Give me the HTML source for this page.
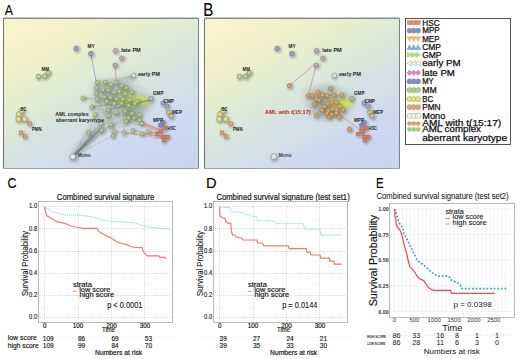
<!DOCTYPE html>
<html><head><meta charset="utf-8"><style>
html,body{margin:0;padding:0;background:#fff;width:520px;height:359px;overflow:hidden;}
svg{display:block;font-family:"Liberation Sans",sans-serif;}
</style></head><body>
<svg width="520" height="359" viewBox="0 0 520 359" font-family="Liberation Sans, sans-serif">
<rect width="520" height="359" fill="#fff"/>
<text transform="translate(4.7,15) scale(0.85,1)" font-size="14.5" fill="#000" stroke="#000" stroke-width="0.1">A</text>
<text transform="translate(203.2,15.5) scale(0.84,1)" font-size="18" fill="#000" stroke="#000" stroke-width="0.1">B</text>
<defs><linearGradient id="gA" gradientUnits="userSpaceOnUse" x1="3" y1="17" x2="108" y2="216"><stop offset="0" stop-color="#f8f6cc"/><stop offset="0.23" stop-color="#f0f0c9"/><stop offset="0.3" stop-color="#eaefcc"/><stop offset="0.4" stop-color="#e1ecd3"/><stop offset="0.6" stop-color="#d4e0e2"/><stop offset="0.67" stop-color="#d2e0e8"/><stop offset="0.76" stop-color="#cddaf0"/><stop offset="1" stop-color="#c8d5f2"/></linearGradient><filter id="blA" x="-30%" y="-30%" width="160%" height="160%"><feGaussianBlur stdDeviation="3"/></filter><filter id="shA" x="-50%" y="-50%" width="200%" height="200%"><feGaussianBlur stdDeviation="1.1"/></filter></defs>
<rect x="3.5" y="18.5" width="195" height="150" fill="url(#gA)" stroke="none"/>
<line x1="3.0" y1="17.5" x2="199.0" y2="17.5" stroke="#c4ccc4" stroke-width="1"/>
<polygon points="94.0,80.0 128.0,80.0 150.0,96.0 152.0,104.0 142.0,122.0 120.0,128.0 100.0,126.0 92.0,110.0" fill="#a4b0a4" opacity="0.4" filter="url(#blA)"/>
<polygon points="98.0,82.0 126.0,84.0 140.0,98.0 132.0,106.0 108.0,104.0 98.0,96.0" fill="#909c94" opacity="0.35" filter="url(#blA)"/>
<line x1="97.3" y1="99.0" x2="114.0" y2="92.3" stroke="#8f9890" stroke-width="0.4" opacity="0.4"/>
<line x1="135.1" y1="103.4" x2="141.8" y2="123.5" stroke="#8f9890" stroke-width="0.4" opacity="0.4"/>
<line x1="116.2" y1="82.2" x2="121.8" y2="85.6" stroke="#8f9890" stroke-width="0.4" opacity="0.4"/>
<line x1="108.4" y1="115.7" x2="96.2" y2="87.8" stroke="#8f9890" stroke-width="0.4" opacity="0.4"/>
<line x1="121.8" y1="103.4" x2="139.6" y2="120.1" stroke="#8f9890" stroke-width="0.4" opacity="0.4"/>
<line x1="116.2" y1="82.2" x2="139.6" y2="114.5" stroke="#8f9890" stroke-width="0.4" opacity="0.4"/>
<line x1="96.2" y1="93.4" x2="110.6" y2="84.5" stroke="#8f9890" stroke-width="0.4" opacity="0.4"/>
<line x1="126.2" y1="87.8" x2="91.7" y2="106.7" stroke="#8f9890" stroke-width="0.4" opacity="0.4"/>
<line x1="82.8" y1="97.8" x2="121.8" y2="85.6" stroke="#8f9890" stroke-width="0.4" opacity="0.4"/>
<line x1="110.6" y1="97.8" x2="126.2" y2="87.8" stroke="#8f9890" stroke-width="0.4" opacity="0.4"/>
<line x1="128.5" y1="117.9" x2="91.7" y2="106.7" stroke="#8f9890" stroke-width="0.4" opacity="0.4"/>
<line x1="116.2" y1="82.2" x2="134.0" y2="117.9" stroke="#8f9890" stroke-width="0.4" opacity="0.4"/>
<line x1="102.8" y1="90.0" x2="104.0" y2="96.7" stroke="#8f9890" stroke-width="0.4" opacity="0.4"/>
<line x1="126.2" y1="121.2" x2="126.2" y2="121.2" stroke="#8f9890" stroke-width="0.4" opacity="0.4"/>
<line x1="139.6" y1="120.1" x2="116.2" y2="82.2" stroke="#8f9890" stroke-width="0.4" opacity="0.4"/>
<line x1="134.0" y1="117.9" x2="139.6" y2="120.1" stroke="#8f9890" stroke-width="0.4" opacity="0.4"/>
<line x1="135.1" y1="103.4" x2="116.2" y2="82.2" stroke="#8f9890" stroke-width="0.4" opacity="0.4"/>
<line x1="104.0" y1="96.7" x2="110.6" y2="84.5" stroke="#8f9890" stroke-width="0.4" opacity="0.4"/>
<line x1="128.5" y1="117.9" x2="108.4" y2="90.0" stroke="#8f9890" stroke-width="0.4" opacity="0.4"/>
<line x1="129.6" y1="100.0" x2="82.8" y2="97.8" stroke="#8f9890" stroke-width="0.4" opacity="0.4"/>
<line x1="114.0" y1="92.3" x2="108.4" y2="115.7" stroke="#8f9890" stroke-width="0.4" opacity="0.4"/>
<line x1="102.8" y1="90.0" x2="134.0" y2="117.9" stroke="#8f9890" stroke-width="0.4" opacity="0.4"/>
<line x1="137.4" y1="101.2" x2="128.5" y2="117.9" stroke="#8f9890" stroke-width="0.4" opacity="0.4"/>
<line x1="101.7" y1="130.1" x2="125.1" y2="93.4" stroke="#8f9890" stroke-width="0.4" opacity="0.4"/>
<line x1="96.2" y1="87.8" x2="139.6" y2="120.1" stroke="#8f9890" stroke-width="0.4" opacity="0.4"/>
<line x1="134.0" y1="117.9" x2="126.2" y2="121.2" stroke="#8f9890" stroke-width="0.4" opacity="0.4"/>
<line x1="131.8" y1="92.3" x2="121.8" y2="103.4" stroke="#8f9890" stroke-width="0.4" opacity="0.4"/>
<line x1="96.2" y1="87.8" x2="128.5" y2="117.9" stroke="#8f9890" stroke-width="0.4" opacity="0.4"/>
<line x1="124.0" y1="132.4" x2="121.8" y2="85.6" stroke="#8f9890" stroke-width="0.4" opacity="0.4"/>
<line x1="134.0" y1="117.9" x2="116.2" y2="82.2" stroke="#8f9890" stroke-width="0.4" opacity="0.4"/>
<line x1="110.6" y1="124.6" x2="96.2" y2="93.4" stroke="#8f9890" stroke-width="0.4" opacity="0.4"/>
<line x1="131.8" y1="113.4" x2="101.7" y2="130.1" stroke="#8f9890" stroke-width="0.4" opacity="0.4"/>
<line x1="108.4" y1="115.7" x2="91.7" y2="106.7" stroke="#8f9890" stroke-width="0.4" opacity="0.4"/>
<line x1="112.9" y1="135.7" x2="97.3" y2="99.0" stroke="#8f9890" stroke-width="0.4" opacity="0.4"/>
<line x1="116.2" y1="112.3" x2="139.6" y2="120.1" stroke="#8f9890" stroke-width="0.4" opacity="0.4"/>
<line x1="116.2" y1="112.3" x2="121.8" y2="103.4" stroke="#8f9890" stroke-width="0.4" opacity="0.4"/>
<line x1="137.4" y1="101.2" x2="110.6" y2="97.8" stroke="#8f9890" stroke-width="0.4" opacity="0.4"/>
<line x1="125.1" y1="93.4" x2="114.0" y2="131.2" stroke="#8f9890" stroke-width="0.4" opacity="0.4"/>
<line x1="112.9" y1="135.7" x2="110.6" y2="97.8" stroke="#8f9890" stroke-width="0.4" opacity="0.4"/>
<line x1="126.2" y1="87.8" x2="134.0" y2="117.9" stroke="#8f9890" stroke-width="0.4" opacity="0.4"/>
<line x1="137.4" y1="101.2" x2="95.0" y2="114.5" stroke="#8f9890" stroke-width="0.4" opacity="0.4"/>
<line x1="131.8" y1="113.4" x2="106.2" y2="101.2" stroke="#8f9890" stroke-width="0.4" opacity="0.4"/>
<line x1="132.9" y1="130.1" x2="108.4" y2="110.0" stroke="#8f9890" stroke-width="0.4" opacity="0.4"/>
<line x1="129.6" y1="100.0" x2="100.6" y2="123.5" stroke="#8f9890" stroke-width="0.4" opacity="0.4"/>
<line x1="121.8" y1="85.6" x2="102.8" y2="90.0" stroke="#8f9890" stroke-width="0.4" opacity="0.4"/>
<line x1="139.6" y1="114.5" x2="82.8" y2="97.8" stroke="#8f9890" stroke-width="0.4" opacity="0.4"/>
<line x1="119.5" y1="91.2" x2="148.5" y2="131.2" stroke="#8f9890" stroke-width="0.4" opacity="0.4"/>
<line x1="106.2" y1="101.2" x2="114.0" y2="92.3" stroke="#8f9890" stroke-width="0.4" opacity="0.4"/>
<line x1="131.8" y1="113.4" x2="82.8" y2="97.8" stroke="#8f9890" stroke-width="0.4" opacity="0.4"/>
<line x1="110.6" y1="84.5" x2="88.4" y2="132.4" stroke="#8f9890" stroke-width="0.4" opacity="0.4"/>
<line x1="121.8" y1="85.6" x2="148.5" y2="131.2" stroke="#8f9890" stroke-width="0.4" opacity="0.4"/>
<line x1="128.5" y1="117.9" x2="134.0" y2="117.9" stroke="#8f9890" stroke-width="0.4" opacity="0.4"/>
<line x1="97.3" y1="99.0" x2="106.2" y2="101.2" stroke="#8f9890" stroke-width="0.4" opacity="0.4"/>
<line x1="114.0" y1="131.2" x2="114.0" y2="103.4" stroke="#8f9890" stroke-width="0.4" opacity="0.4"/>
<line x1="100.6" y1="123.5" x2="131.8" y2="113.4" stroke="#8f9890" stroke-width="0.4" opacity="0.4"/>
<line x1="139.6" y1="120.1" x2="116.2" y2="112.3" stroke="#8f9890" stroke-width="0.4" opacity="0.4"/>
<line x1="121.8" y1="85.6" x2="126.2" y2="87.8" stroke="#8f9890" stroke-width="0.4" opacity="0.4"/>
<line x1="122.9" y1="99.0" x2="125.1" y2="111.2" stroke="#8f9890" stroke-width="0.4" opacity="0.4"/>
<line x1="114.0" y1="131.2" x2="88.4" y2="132.4" stroke="#8f9890" stroke-width="0.4" opacity="0.4"/>
<line x1="121.8" y1="85.6" x2="116.2" y2="82.2" stroke="#8f9890" stroke-width="0.4" opacity="0.4"/>
<line x1="132.9" y1="130.1" x2="114.0" y2="131.2" stroke="#8f9890" stroke-width="0.4" opacity="0.4"/>
<line x1="137.4" y1="101.2" x2="141.8" y2="123.5" stroke="#8f9890" stroke-width="0.4" opacity="0.4"/>
<line x1="134.0" y1="117.9" x2="101.7" y2="130.1" stroke="#8f9890" stroke-width="0.4" opacity="0.4"/>
<line x1="108.4" y1="110.0" x2="129.6" y2="100.0" stroke="#8f9890" stroke-width="0.4" opacity="0.4"/>
<line x1="124.0" y1="132.4" x2="128.5" y2="105.6" stroke="#8f9890" stroke-width="0.4" opacity="0.4"/>
<line x1="88.4" y1="132.4" x2="114.0" y2="103.4" stroke="#8f9890" stroke-width="0.4" opacity="0.4"/>
<line x1="105.0" y1="82.2" x2="116.2" y2="112.3" stroke="#8f9890" stroke-width="0.4" opacity="0.4"/>
<line x1="114.0" y1="103.4" x2="119.5" y2="91.2" stroke="#8f9890" stroke-width="0.4" opacity="0.4"/>
<line x1="110.6" y1="124.6" x2="102.8" y2="90.0" stroke="#8f9890" stroke-width="0.4" opacity="0.4"/>
<line x1="131.8" y1="113.4" x2="116.2" y2="82.2" stroke="#8f9890" stroke-width="0.4" opacity="0.4"/>
<line x1="96.2" y1="93.4" x2="112.9" y2="135.7" stroke="#8f9890" stroke-width="0.4" opacity="0.4"/>
<line x1="129.6" y1="100.0" x2="108.4" y2="90.0" stroke="#8f9890" stroke-width="0.4" opacity="0.4"/>
<line x1="141.8" y1="133.5" x2="110.6" y2="97.8" stroke="#8f9890" stroke-width="0.4" opacity="0.4"/>
<line x1="135.1" y1="103.4" x2="135.1" y2="103.4" stroke="#8f9890" stroke-width="0.4" opacity="0.4"/>
<line x1="131.8" y1="113.4" x2="126.2" y2="87.8" stroke="#8f9890" stroke-width="0.4" opacity="0.4"/>
<line x1="119.5" y1="91.2" x2="108.4" y2="110.0" stroke="#8f9890" stroke-width="0.4" opacity="0.4"/>
<line x1="135.1" y1="103.4" x2="128.5" y2="117.9" stroke="#8f9890" stroke-width="0.4" opacity="0.4"/>
<line x1="122.9" y1="99.0" x2="108.4" y2="90.0" stroke="#8f9890" stroke-width="0.4" opacity="0.4"/>
<line x1="91.7" y1="106.7" x2="128.5" y2="117.9" stroke="#8f9890" stroke-width="0.4" opacity="0.4"/>
<line x1="122.9" y1="99.0" x2="124.0" y2="132.4" stroke="#8f9890" stroke-width="0.4" opacity="0.4"/>
<line x1="82.8" y1="97.8" x2="114.0" y2="103.4" stroke="#8f9890" stroke-width="0.4" opacity="0.4"/>
<line x1="101.7" y1="130.1" x2="128.5" y2="105.6" stroke="#8f9890" stroke-width="0.4" opacity="0.4"/>
<line x1="104.0" y1="96.7" x2="114.0" y2="92.3" stroke="#8f9890" stroke-width="0.4" opacity="0.4"/>
<line x1="126.2" y1="87.8" x2="125.1" y2="93.4" stroke="#8f9890" stroke-width="0.4" opacity="0.4"/>
<line x1="114.0" y1="92.3" x2="104.0" y2="96.7" stroke="#8f9890" stroke-width="0.4" opacity="0.4"/>
<line x1="88.4" y1="132.4" x2="104.0" y2="96.7" stroke="#8f9890" stroke-width="0.4" opacity="0.4"/>
<line x1="97.3" y1="82.2" x2="131.8" y2="113.4" stroke="#8f9890" stroke-width="0.4" opacity="0.4"/>
<line x1="139.6" y1="120.1" x2="125.1" y2="93.4" stroke="#8f9890" stroke-width="0.4" opacity="0.4"/>
<line x1="116.2" y1="99.0" x2="129.6" y2="100.0" stroke="#8f9890" stroke-width="0.4" opacity="0.4"/>
<line x1="97.3" y1="82.2" x2="114.0" y2="92.3" stroke="#8f9890" stroke-width="0.4" opacity="0.4"/>
<line x1="82.8" y1="97.8" x2="108.4" y2="115.7" stroke="#8f9890" stroke-width="0.4" opacity="0.4"/>
<line x1="121.8" y1="103.4" x2="110.6" y2="124.6" stroke="#8f9890" stroke-width="0.4" opacity="0.4"/>
<line x1="134.0" y1="117.9" x2="97.3" y2="99.0" stroke="#8f9890" stroke-width="0.4" opacity="0.4"/>
<line x1="108.4" y1="90.0" x2="114.0" y2="131.2" stroke="#8f9890" stroke-width="0.4" opacity="0.4"/>
<line x1="139.6" y1="114.5" x2="110.6" y2="124.6" stroke="#8f9890" stroke-width="0.4" opacity="0.4"/>
<line x1="141.8" y1="123.5" x2="101.7" y2="130.1" stroke="#8f9890" stroke-width="0.4" opacity="0.4"/>
<line x1="141.8" y1="133.5" x2="116.2" y2="82.2" stroke="#8f9890" stroke-width="0.4" opacity="0.4"/>
<line x1="116.2" y1="112.3" x2="112.9" y2="135.7" stroke="#8f9890" stroke-width="0.4" opacity="0.4"/>
<line x1="101.7" y1="130.1" x2="128.5" y2="117.9" stroke="#8f9890" stroke-width="0.4" opacity="0.4"/>
<line x1="135.1" y1="103.4" x2="135.1" y2="103.4" stroke="#8f9890" stroke-width="0.4" opacity="0.4"/>
<line x1="135.1" y1="103.4" x2="135.1" y2="103.4" stroke="#8f9890" stroke-width="0.4" opacity="0.4"/>
<line x1="96.2" y1="87.8" x2="125.1" y2="111.2" stroke="#8f9890" stroke-width="0.4" opacity="0.4"/>
<line x1="126.2" y1="121.2" x2="135.1" y2="103.4" stroke="#8f9890" stroke-width="0.4" opacity="0.4"/>
<line x1="116.2" y1="82.2" x2="131.8" y2="92.3" stroke="#8f9890" stroke-width="0.4" opacity="0.4"/>
<line x1="121.8" y1="85.6" x2="96.2" y2="93.4" stroke="#8f9890" stroke-width="0.4" opacity="0.4"/>
<line x1="108.4" y1="110.0" x2="119.5" y2="91.2" stroke="#8f9890" stroke-width="0.4" opacity="0.4"/>
<line x1="102.8" y1="90.0" x2="106.2" y2="101.2" stroke="#8f9890" stroke-width="0.4" opacity="0.4"/>
<line x1="100.6" y1="123.5" x2="116.2" y2="82.2" stroke="#8f9890" stroke-width="0.4" opacity="0.4"/>
<line x1="96.2" y1="87.8" x2="97.3" y2="82.2" stroke="#8f9890" stroke-width="0.4" opacity="0.4"/>
<line x1="134.0" y1="117.9" x2="114.0" y2="92.3" stroke="#8f9890" stroke-width="0.4" opacity="0.4"/>
<polygon points="124.0,96.0 151.0,99.0 148.0,106.0 128.0,122.0 122.0,112.0" fill="#6c7a64" opacity="0.4" filter="url(#blA)"/>
<polygon points="122.0,95.0 150.0,99.0 150.0,102.0 124.0,106.0" fill="#e0f038" opacity="0.6" filter="url(#blA)"/>
<line x1="114.0" y1="103.4" x2="149.2" y2="100.1" stroke="#d4e848" stroke-width="0.5" opacity="0.6"/>
<line x1="114.0" y1="92.3" x2="149.1" y2="99.6" stroke="#d4e848" stroke-width="0.5" opacity="0.6"/>
<line x1="129.6" y1="100.0" x2="149.3" y2="99.8" stroke="#d4e848" stroke-width="0.5" opacity="0.6"/>
<line x1="122.9" y1="99.0" x2="150.2" y2="100.4" stroke="#d4e848" stroke-width="0.5" opacity="0.6"/>
<line x1="119.5" y1="91.2" x2="150.7" y2="102.0" stroke="#d4e848" stroke-width="0.5" opacity="0.6"/>
<line x1="137.4" y1="101.2" x2="150.0" y2="99.9" stroke="#d4e848" stroke-width="0.5" opacity="0.6"/>
<line x1="125.1" y1="93.4" x2="149.2" y2="100.0" stroke="#d4e848" stroke-width="0.5" opacity="0.6"/>
<line x1="116.2" y1="99.0" x2="150.0" y2="101.1" stroke="#d4e848" stroke-width="0.5" opacity="0.6"/>
<line x1="114.0" y1="103.4" x2="149.0" y2="101.9" stroke="#d4e848" stroke-width="0.5" opacity="0.6"/>
<line x1="114.0" y1="103.4" x2="149.7" y2="101.1" stroke="#d4e848" stroke-width="0.5" opacity="0.6"/>
<line x1="131.8" y1="113.4" x2="149.1" y2="100.6" stroke="#d4e848" stroke-width="0.5" opacity="0.6"/>
<line x1="128.5" y1="105.6" x2="150.7" y2="101.1" stroke="#d4e848" stroke-width="0.5" opacity="0.6"/>
<line x1="116.2" y1="99.0" x2="150.0" y2="101.7" stroke="#d4e848" stroke-width="0.5" opacity="0.6"/>
<line x1="122.9" y1="99.0" x2="150.5" y2="100.6" stroke="#d4e848" stroke-width="0.5" opacity="0.6"/>
<line x1="116.2" y1="112.3" x2="150.0" y2="100.9" stroke="#d4e848" stroke-width="0.5" opacity="0.6"/>
<line x1="121.8" y1="103.4" x2="150.6" y2="102.0" stroke="#d4e848" stroke-width="0.5" opacity="0.6"/>
<line x1="125.1" y1="111.2" x2="149.4" y2="99.7" stroke="#d4e848" stroke-width="0.5" opacity="0.6"/>
<line x1="129.6" y1="100.0" x2="150.5" y2="99.7" stroke="#d4e848" stroke-width="0.5" opacity="0.6"/>
<line x1="114.0" y1="103.4" x2="150.0" y2="101.2" stroke="#d4e848" stroke-width="0.5" opacity="0.6"/>
<line x1="114.0" y1="92.3" x2="150.6" y2="100.4" stroke="#d4e848" stroke-width="0.5" opacity="0.6"/>
<line x1="131.8" y1="92.3" x2="150.4" y2="101.9" stroke="#d4e848" stroke-width="0.5" opacity="0.6"/>
<line x1="137.4" y1="101.2" x2="150.6" y2="101.2" stroke="#d4e848" stroke-width="0.5" opacity="0.6"/>
<line x1="122.9" y1="99.0" x2="150.9" y2="100.1" stroke="#d4e848" stroke-width="0.5" opacity="0.6"/>
<line x1="131.8" y1="92.3" x2="149.2" y2="100.4" stroke="#d4e848" stroke-width="0.5" opacity="0.6"/>
<line x1="72.8" y1="156.6" x2="88.4" y2="132.1" stroke="#7c8484" stroke-width="0.45" opacity="0.6"/>
<line x1="72.8" y1="156.6" x2="100.6" y2="129.3" stroke="#7c8484" stroke-width="0.45" opacity="0.6"/>
<line x1="72.8" y1="156.6" x2="112.0" y2="124.6" stroke="#7c8484" stroke-width="0.45" opacity="0.6"/>
<line x1="72.8" y1="156.6" x2="113.9" y2="135.0" stroke="#7c8484" stroke-width="0.45" opacity="0.6"/>
<line x1="72.8" y1="156.6" x2="116.7" y2="124.6" stroke="#7c8484" stroke-width="0.45" opacity="0.6"/>
<line x1="72.8" y1="156.6" x2="101.7" y2="130.1" stroke="#7c8484" stroke-width="0.45" opacity="0.6"/>
<line x1="72.8" y1="156.6" x2="95.0" y2="114.5" stroke="#7c8484" stroke-width="0.45" opacity="0.6"/>
<line x1="72.8" y1="156.6" x2="100.6" y2="123.5" stroke="#7c8484" stroke-width="0.45" opacity="0.6"/>
<line x1="72.8" y1="156.6" x2="110.6" y2="124.6" stroke="#7c8484" stroke-width="0.45" opacity="0.6"/>
<line x1="72.8" y1="156.6" x2="99.4" y2="126.8" stroke="#707878" stroke-width="0.45" opacity="0.55"/>
<line x1="72.8" y1="156.6" x2="107.8" y2="128.3" stroke="#707878" stroke-width="0.45" opacity="0.55"/>
<line x1="72.8" y1="156.6" x2="95.0" y2="131.9" stroke="#707878" stroke-width="0.45" opacity="0.55"/>
<line x1="72.8" y1="156.6" x2="99.5" y2="128.7" stroke="#707878" stroke-width="0.45" opacity="0.55"/>
<line x1="72.8" y1="156.6" x2="105.9" y2="122.4" stroke="#707878" stroke-width="0.45" opacity="0.55"/>
<line x1="72.8" y1="156.6" x2="100.1" y2="129.5" stroke="#707878" stroke-width="0.45" opacity="0.55"/>
<line x1="72.8" y1="156.6" x2="97.6" y2="131.7" stroke="#707878" stroke-width="0.45" opacity="0.55"/>
<line x1="72.8" y1="156.6" x2="100.6" y2="128.6" stroke="#707878" stroke-width="0.45" opacity="0.55"/>
<line x1="72.8" y1="156.6" x2="96.1" y2="132.4" stroke="#707878" stroke-width="0.45" opacity="0.55"/>
<line x1="72.8" y1="156.6" x2="104.4" y2="126.6" stroke="#707878" stroke-width="0.45" opacity="0.55"/>
<line x1="72.8" y1="156.6" x2="104.7" y2="122.0" stroke="#707878" stroke-width="0.45" opacity="0.55"/>
<line x1="72.8" y1="156.6" x2="97.1" y2="132.9" stroke="#707878" stroke-width="0.45" opacity="0.55"/>
<line x1="72.8" y1="156.6" x2="95.4" y2="128.1" stroke="#707878" stroke-width="0.45" opacity="0.55"/>
<line x1="72.8" y1="156.6" x2="101.0" y2="128.9" stroke="#707878" stroke-width="0.45" opacity="0.55"/>
<line x1="72.8" y1="156.6" x2="103.0" y2="128.2" stroke="#707878" stroke-width="0.45" opacity="0.55"/>
<line x1="72.8" y1="156.6" x2="101.2" y2="132.2" stroke="#707878" stroke-width="0.45" opacity="0.55"/>
<polygon points="72.0,154.0 84.0,140.0 96.0,126.0 104.0,126.0 92.0,140.0 80.0,154.0 75.0,161.0" fill="#606868" opacity="0.4" filter="url(#blA)"/>
<line x1="90.8" y1="53.6" x2="97.3" y2="88.0" stroke="#7b86c8" stroke-width="0.7" opacity="0.9"/>
<line x1="115.1" y1="65.1" x2="116.2" y2="82.2" stroke="#d070a0" stroke-width="0.6" opacity="1"/>
<polygon points="134.0,74.0 104.0,82.0 112.0,88.0 128.0,86.0" fill="#b8bcb8" opacity="0.5" filter="url(#blA)"/>
<line x1="133.0" y1="75.4" x2="97.3" y2="82.2" stroke="#a0a4a0" stroke-width="0.4" opacity="0.55"/>
<line x1="133.0" y1="75.4" x2="105.0" y2="82.2" stroke="#a0a4a0" stroke-width="0.4" opacity="0.55"/>
<line x1="133.0" y1="75.4" x2="110.6" y2="84.5" stroke="#a0a4a0" stroke-width="0.4" opacity="0.55"/>
<line x1="133.0" y1="75.4" x2="116.2" y2="82.2" stroke="#a0a4a0" stroke-width="0.4" opacity="0.55"/>
<line x1="133.0" y1="75.4" x2="121.8" y2="85.6" stroke="#a0a4a0" stroke-width="0.4" opacity="0.55"/>
<line x1="133.0" y1="75.4" x2="126.2" y2="87.8" stroke="#a0a4a0" stroke-width="0.4" opacity="0.55"/>
<line x1="133.0" y1="75.4" x2="96.2" y2="87.8" stroke="#a0a4a0" stroke-width="0.4" opacity="0.55"/>
<line x1="133.0" y1="75.4" x2="102.8" y2="90.0" stroke="#a0a4a0" stroke-width="0.4" opacity="0.55"/>
<line x1="133.0" y1="75.4" x2="108.4" y2="90.0" stroke="#a0a4a0" stroke-width="0.4" opacity="0.55"/>
<line x1="133.0" y1="75.4" x2="114.0" y2="92.3" stroke="#a0a4a0" stroke-width="0.4" opacity="0.55"/>
<line x1="133.0" y1="75.4" x2="119.5" y2="91.2" stroke="#a0a4a0" stroke-width="0.4" opacity="0.55"/>
<line x1="133.0" y1="75.4" x2="125.1" y2="93.4" stroke="#a0a4a0" stroke-width="0.4" opacity="0.55"/>
<line x1="133.0" y1="75.4" x2="131.8" y2="92.3" stroke="#a0a4a0" stroke-width="0.4" opacity="0.55"/>
<line x1="163.0" y1="131.4" x2="139.6" y2="120.1" stroke="#e46848" stroke-width="0.55" opacity="0.75"/>
<line x1="163.0" y1="134.9" x2="134.0" y2="117.9" stroke="#e46848" stroke-width="0.55" opacity="0.75"/>
<line x1="163.0" y1="130.2" x2="141.8" y2="123.5" stroke="#e46848" stroke-width="0.55" opacity="0.75"/>
<line x1="163.0" y1="137.2" x2="132.9" y2="130.1" stroke="#e46848" stroke-width="0.55" opacity="0.75"/>
<line x1="163.0" y1="136.5" x2="124.0" y2="132.4" stroke="#e46848" stroke-width="0.55" opacity="0.75"/>
<line x1="163.0" y1="130.9" x2="141.8" y2="133.5" stroke="#e46848" stroke-width="0.55" opacity="0.75"/>
<line x1="163.0" y1="136.7" x2="148.5" y2="131.2" stroke="#e46848" stroke-width="0.55" opacity="0.75"/>
<line x1="163.0" y1="131.3" x2="128.5" y2="117.9" stroke="#e46848" stroke-width="0.55" opacity="0.75"/>
<line x1="163.0" y1="138.9" x2="114.0" y2="131.2" stroke="#e46848" stroke-width="0.55" opacity="0.75"/>
<line x1="163.0" y1="131.8" x2="126.2" y2="121.2" stroke="#e46848" stroke-width="0.55" opacity="0.75"/>
<line x1="91.7" y1="106.7" x2="150.0" y2="100.5" stroke="#6a7a60" stroke-width="0.5" opacity="0.6"/>
<line x1="82.8" y1="97.8" x2="150.0" y2="100.5" stroke="#6a7a60" stroke-width="0.5" opacity="0.6"/>
<line x1="108.4" y1="110.0" x2="150.0" y2="100.5" stroke="#6a7a60" stroke-width="0.5" opacity="0.6"/>
<line x1="91.7" y1="106.7" x2="150.0" y2="100.5" stroke="#6a7a60" stroke-width="0.5" opacity="0.6"/>
<line x1="108.4" y1="110.0" x2="150.0" y2="100.5" stroke="#6a7a60" stroke-width="0.5" opacity="0.6"/>
<circle cx="134.1" cy="76.8" r="3.2" fill="#6a7478" opacity="0.45" filter="url(#shA)"/>
<path d="M130.4 75.4L135.0 72.9L135.0 77.9Z" fill="#eceee8" stroke="#8a8a8a" stroke-width="0.5"/>
<circle cx="98.4" cy="83.6" r="3.0" fill="#6a7478" opacity="0.45" filter="url(#shA)"/>
<circle cx="106.1" cy="83.6" r="3.0" fill="#6a7478" opacity="0.45" filter="url(#shA)"/>
<circle cx="111.7" cy="85.9" r="3.0" fill="#6a7478" opacity="0.45" filter="url(#shA)"/>
<circle cx="117.3" cy="83.6" r="3.0" fill="#6a7478" opacity="0.45" filter="url(#shA)"/>
<circle cx="122.9" cy="87.0" r="3.0" fill="#6a7478" opacity="0.45" filter="url(#shA)"/>
<circle cx="127.3" cy="89.2" r="3.0" fill="#6a7478" opacity="0.45" filter="url(#shA)"/>
<circle cx="97.3" cy="89.2" r="3.0" fill="#6a7478" opacity="0.45" filter="url(#shA)"/>
<circle cx="103.9" cy="91.4" r="3.0" fill="#6a7478" opacity="0.45" filter="url(#shA)"/>
<circle cx="109.5" cy="91.4" r="3.0" fill="#6a7478" opacity="0.45" filter="url(#shA)"/>
<circle cx="115.1" cy="93.7" r="3.0" fill="#6a7478" opacity="0.45" filter="url(#shA)"/>
<circle cx="120.6" cy="92.6" r="3.0" fill="#6a7478" opacity="0.45" filter="url(#shA)"/>
<circle cx="126.2" cy="94.8" r="3.0" fill="#6a7478" opacity="0.45" filter="url(#shA)"/>
<circle cx="132.9" cy="93.7" r="3.0" fill="#6a7478" opacity="0.45" filter="url(#shA)"/>
<circle cx="97.3" cy="94.8" r="3.0" fill="#6a7478" opacity="0.45" filter="url(#shA)"/>
<circle cx="105.1" cy="98.1" r="3.0" fill="#6a7478" opacity="0.45" filter="url(#shA)"/>
<circle cx="111.7" cy="99.2" r="3.0" fill="#6a7478" opacity="0.45" filter="url(#shA)"/>
<circle cx="117.3" cy="100.4" r="3.0" fill="#6a7478" opacity="0.45" filter="url(#shA)"/>
<circle cx="124.0" cy="100.4" r="3.0" fill="#6a7478" opacity="0.45" filter="url(#shA)"/>
<circle cx="130.7" cy="101.4" r="3.0" fill="#6a7478" opacity="0.45" filter="url(#shA)"/>
<circle cx="138.5" cy="102.6" r="3.0" fill="#6a7478" opacity="0.45" filter="url(#shA)"/>
<circle cx="98.4" cy="100.4" r="3.0" fill="#6a7478" opacity="0.45" filter="url(#shA)"/>
<circle cx="107.3" cy="102.6" r="3.0" fill="#6a7478" opacity="0.45" filter="url(#shA)"/>
<circle cx="115.1" cy="104.8" r="3.0" fill="#6a7478" opacity="0.45" filter="url(#shA)"/>
<circle cx="122.9" cy="104.8" r="3.0" fill="#6a7478" opacity="0.45" filter="url(#shA)"/>
<circle cx="129.6" cy="107.0" r="3.0" fill="#6a7478" opacity="0.45" filter="url(#shA)"/>
<circle cx="136.2" cy="104.8" r="3.0" fill="#6a7478" opacity="0.45" filter="url(#shA)"/>
<circle cx="83.9" cy="99.2" r="3.0" fill="#6a7478" opacity="0.45" filter="url(#shA)"/>
<circle cx="92.8" cy="108.1" r="3.0" fill="#6a7478" opacity="0.45" filter="url(#shA)"/>
<circle cx="109.5" cy="111.4" r="3.0" fill="#6a7478" opacity="0.45" filter="url(#shA)"/>
<circle cx="117.3" cy="113.7" r="3.0" fill="#6a7478" opacity="0.45" filter="url(#shA)"/>
<circle cx="126.2" cy="112.6" r="3.0" fill="#6a7478" opacity="0.45" filter="url(#shA)"/>
<circle cx="132.9" cy="114.8" r="3.0" fill="#6a7478" opacity="0.45" filter="url(#shA)"/>
<circle cx="140.7" cy="115.9" r="3.0" fill="#6a7478" opacity="0.45" filter="url(#shA)"/>
<circle cx="96.1" cy="115.9" r="3.0" fill="#6a7478" opacity="0.45" filter="url(#shA)"/>
<circle cx="109.5" cy="117.1" r="3.0" fill="#6a7478" opacity="0.45" filter="url(#shA)"/>
<circle cx="129.6" cy="119.3" r="3.0" fill="#6a7478" opacity="0.45" filter="url(#shA)"/>
<circle cx="135.1" cy="119.3" r="3.0" fill="#6a7478" opacity="0.45" filter="url(#shA)"/>
<circle cx="140.7" cy="121.5" r="3.0" fill="#6a7478" opacity="0.45" filter="url(#shA)"/>
<circle cx="101.7" cy="124.9" r="3.0" fill="#6a7478" opacity="0.45" filter="url(#shA)"/>
<circle cx="111.7" cy="126.0" r="3.0" fill="#6a7478" opacity="0.45" filter="url(#shA)"/>
<circle cx="127.3" cy="122.6" r="3.0" fill="#6a7478" opacity="0.45" filter="url(#shA)"/>
<circle cx="142.9" cy="124.9" r="3.0" fill="#6a7478" opacity="0.45" filter="url(#shA)"/>
<circle cx="89.5" cy="133.8" r="3.0" fill="#6a7478" opacity="0.45" filter="url(#shA)"/>
<circle cx="102.8" cy="131.5" r="3.0" fill="#6a7478" opacity="0.45" filter="url(#shA)"/>
<circle cx="115.1" cy="132.6" r="3.0" fill="#6a7478" opacity="0.45" filter="url(#shA)"/>
<circle cx="125.1" cy="133.8" r="3.0" fill="#6a7478" opacity="0.45" filter="url(#shA)"/>
<circle cx="134.0" cy="131.5" r="3.0" fill="#6a7478" opacity="0.45" filter="url(#shA)"/>
<circle cx="142.9" cy="134.9" r="3.0" fill="#6a7478" opacity="0.45" filter="url(#shA)"/>
<circle cx="149.6" cy="132.6" r="3.0" fill="#6a7478" opacity="0.45" filter="url(#shA)"/>
<circle cx="114.0" cy="137.1" r="3.0" fill="#6a7478" opacity="0.45" filter="url(#shA)"/>
<circle cx="77.2" cy="49.8" r="3.5" fill="#6a7478" opacity="0.45" filter="url(#shA)"/>
<circle cx="91.9" cy="55.0" r="3.5" fill="#6a7478" opacity="0.45" filter="url(#shA)"/>
<circle cx="116.5" cy="51.9" r="3.3" fill="#6a7478" opacity="0.45" filter="url(#shA)"/>
<circle cx="122.7" cy="59.4" r="3.3" fill="#6a7478" opacity="0.45" filter="url(#shA)"/>
<circle cx="116.2" cy="66.5" r="3.3" fill="#6a7478" opacity="0.45" filter="url(#shA)"/>
<circle cx="39.5" cy="77.8" r="3.4" fill="#6a7478" opacity="0.45" filter="url(#shA)"/>
<circle cx="45.8" cy="77.5" r="3.4" fill="#6a7478" opacity="0.45" filter="url(#shA)"/>
<circle cx="49.3" cy="74.1" r="3.4" fill="#6a7478" opacity="0.45" filter="url(#shA)"/>
<circle cx="19.9" cy="115.6" r="3.7" fill="#6a7478" opacity="0.45" filter="url(#shA)"/>
<circle cx="23.0" cy="112.1" r="3.7" fill="#6a7478" opacity="0.45" filter="url(#shA)"/>
<circle cx="19.5" cy="120.4" r="3.7" fill="#6a7478" opacity="0.45" filter="url(#shA)"/>
<circle cx="25.7" cy="120.4" r="3.7" fill="#6a7478" opacity="0.45" filter="url(#shA)"/>
<circle cx="30.7" cy="125.0" r="2.9" fill="#6a7478" opacity="0.45" filter="url(#shA)"/>
<circle cx="22.0" cy="134.0" r="2.9" fill="#6a7478" opacity="0.45" filter="url(#shA)"/>
<circle cx="26.1" cy="137.7" r="2.9" fill="#6a7478" opacity="0.45" filter="url(#shA)"/>
<circle cx="73.9" cy="158.0" r="4.0" fill="#6a7478" opacity="0.45" filter="url(#shA)"/>
<circle cx="151.8" cy="99.9" r="3.3" fill="#6a7478" opacity="0.45" filter="url(#shA)"/>
<circle cx="164.1" cy="104.4" r="3.3" fill="#6a7478" opacity="0.45" filter="url(#shA)"/>
<circle cx="168.1" cy="107.4" r="3.3" fill="#6a7478" opacity="0.45" filter="url(#shA)"/>
<circle cx="169.6" cy="113.7" r="3.3" fill="#6a7478" opacity="0.45" filter="url(#shA)"/>
<circle cx="172.1" cy="117.4" r="3.3" fill="#6a7478" opacity="0.45" filter="url(#shA)"/>
<circle cx="164.1" cy="123.7" r="3.3" fill="#6a7478" opacity="0.45" filter="url(#shA)"/>
<circle cx="161.6" cy="126.4" r="3.3" fill="#6a7478" opacity="0.45" filter="url(#shA)"/>
<circle cx="166.3" cy="129.4" r="2.9" fill="#6a7478" opacity="0.45" filter="url(#shA)"/>
<circle cx="161.8" cy="132.6" r="2.9" fill="#6a7478" opacity="0.45" filter="url(#shA)"/>
<circle cx="164.1" cy="138.2" r="2.9" fill="#6a7478" opacity="0.45" filter="url(#shA)"/>
<circle cx="168.5" cy="138.2" r="2.9" fill="#6a7478" opacity="0.45" filter="url(#shA)"/>
<circle cx="165.1" cy="141.6" r="2.9" fill="#6a7478" opacity="0.45" filter="url(#shA)"/>
<circle cx="158.1" cy="135.4" r="2.9" fill="#6a7478" opacity="0.45" filter="url(#shA)"/>
<circle cx="97.3" cy="82.2" r="1.8" fill="#b8d47a" stroke="#7a8a60" stroke-width="0.45"/>
<circle cx="105.0" cy="82.2" r="1.8" fill="#b8d47a" stroke="#7a8a60" stroke-width="0.45"/>
<circle cx="110.6" cy="84.5" r="1.8" fill="#b8d47a" stroke="#7a8a60" stroke-width="0.45"/>
<circle cx="116.2" cy="82.2" r="1.8" fill="#b8d47a" stroke="#7a8a60" stroke-width="0.45"/>
<circle cx="121.8" cy="85.6" r="1.8" fill="#b8d47a" stroke="#7a8a60" stroke-width="0.45"/>
<circle cx="126.2" cy="87.8" r="1.8" fill="#b8d47a" stroke="#7a8a60" stroke-width="0.45"/>
<circle cx="96.2" cy="87.8" r="1.8" fill="#b8d47a" stroke="#7a8a60" stroke-width="0.45"/>
<circle cx="102.8" cy="90.0" r="1.8" fill="#b8d47a" stroke="#7a8a60" stroke-width="0.45"/>
<circle cx="108.4" cy="90.0" r="1.8" fill="#b8d47a" stroke="#7a8a60" stroke-width="0.45"/>
<circle cx="114.0" cy="92.3" r="1.8" fill="#b8d47a" stroke="#7a8a60" stroke-width="0.45"/>
<circle cx="119.5" cy="91.2" r="1.8" fill="#b8d47a" stroke="#7a8a60" stroke-width="0.45"/>
<circle cx="125.1" cy="93.4" r="1.8" fill="#b8d47a" stroke="#7a8a60" stroke-width="0.45"/>
<circle cx="131.8" cy="92.3" r="1.8" fill="#b8d47a" stroke="#7a8a60" stroke-width="0.45"/>
<circle cx="96.2" cy="93.4" r="1.8" fill="#b8d47a" stroke="#7a8a60" stroke-width="0.45"/>
<circle cx="104.0" cy="96.7" r="1.8" fill="#b8d47a" stroke="#7a8a60" stroke-width="0.45"/>
<circle cx="110.6" cy="97.8" r="1.8" fill="#b8d47a" stroke="#7a8a60" stroke-width="0.45"/>
<circle cx="116.2" cy="99.0" r="1.8" fill="#b8d47a" stroke="#7a8a60" stroke-width="0.45"/>
<circle cx="122.9" cy="99.0" r="1.8" fill="#b8d47a" stroke="#7a8a60" stroke-width="0.45"/>
<circle cx="129.6" cy="100.0" r="1.8" fill="#b8d47a" stroke="#7a8a60" stroke-width="0.45"/>
<circle cx="137.4" cy="101.2" r="1.8" fill="#b8d47a" stroke="#7a8a60" stroke-width="0.45"/>
<circle cx="97.3" cy="99.0" r="1.8" fill="#b8d47a" stroke="#7a8a60" stroke-width="0.45"/>
<circle cx="106.2" cy="101.2" r="1.8" fill="#b8d47a" stroke="#7a8a60" stroke-width="0.45"/>
<circle cx="114.0" cy="103.4" r="1.8" fill="#b8d47a" stroke="#7a8a60" stroke-width="0.45"/>
<circle cx="121.8" cy="103.4" r="1.8" fill="#b8d47a" stroke="#7a8a60" stroke-width="0.45"/>
<circle cx="128.5" cy="105.6" r="1.8" fill="#b8d47a" stroke="#7a8a60" stroke-width="0.45"/>
<circle cx="135.1" cy="103.4" r="1.8" fill="#b8d47a" stroke="#7a8a60" stroke-width="0.45"/>
<circle cx="82.8" cy="97.8" r="1.8" fill="#b8d47a" stroke="#7a8a60" stroke-width="0.45"/>
<circle cx="91.7" cy="106.7" r="1.8" fill="#b8d47a" stroke="#7a8a60" stroke-width="0.45"/>
<circle cx="108.4" cy="110.0" r="1.8" fill="#b8d47a" stroke="#7a8a60" stroke-width="0.45"/>
<circle cx="116.2" cy="112.3" r="1.8" fill="#b8d47a" stroke="#7a8a60" stroke-width="0.45"/>
<circle cx="125.1" cy="111.2" r="1.8" fill="#b8d47a" stroke="#7a8a60" stroke-width="0.45"/>
<circle cx="131.8" cy="113.4" r="1.8" fill="#b8d47a" stroke="#7a8a60" stroke-width="0.45"/>
<circle cx="139.6" cy="114.5" r="1.8" fill="#b8d47a" stroke="#7a8a60" stroke-width="0.45"/>
<circle cx="95.0" cy="114.5" r="1.8" fill="#b8d47a" stroke="#7a8a60" stroke-width="0.45"/>
<circle cx="108.4" cy="115.7" r="1.8" fill="#b8d47a" stroke="#7a8a60" stroke-width="0.45"/>
<circle cx="128.5" cy="117.9" r="1.8" fill="#b8d47a" stroke="#7a8a60" stroke-width="0.45"/>
<circle cx="134.0" cy="117.9" r="1.8" fill="#b8d47a" stroke="#7a8a60" stroke-width="0.45"/>
<circle cx="139.6" cy="120.1" r="1.8" fill="#b8d47a" stroke="#7a8a60" stroke-width="0.45"/>
<circle cx="100.6" cy="123.5" r="1.8" fill="#b8d47a" stroke="#7a8a60" stroke-width="0.45"/>
<circle cx="110.6" cy="124.6" r="1.8" fill="#b8d47a" stroke="#7a8a60" stroke-width="0.45"/>
<circle cx="126.2" cy="121.2" r="1.8" fill="#b8d47a" stroke="#7a8a60" stroke-width="0.45"/>
<circle cx="141.8" cy="123.5" r="1.8" fill="#b8d47a" stroke="#7a8a60" stroke-width="0.45"/>
<circle cx="88.4" cy="132.4" r="1.8" fill="#b8d47a" stroke="#7a8a60" stroke-width="0.45"/>
<circle cx="101.7" cy="130.1" r="1.8" fill="#b8d47a" stroke="#7a8a60" stroke-width="0.45"/>
<circle cx="114.0" cy="131.2" r="1.8" fill="#b8d47a" stroke="#7a8a60" stroke-width="0.45"/>
<circle cx="124.0" cy="132.4" r="1.8" fill="#b8d47a" stroke="#7a8a60" stroke-width="0.45"/>
<circle cx="132.9" cy="130.1" r="1.8" fill="#b8d47a" stroke="#7a8a60" stroke-width="0.45"/>
<circle cx="141.8" cy="133.5" r="1.8" fill="#b8d47a" stroke="#7a8a60" stroke-width="0.45"/>
<circle cx="148.5" cy="131.2" r="1.8" fill="#b8d47a" stroke="#7a8a60" stroke-width="0.45"/>
<circle cx="112.9" cy="135.7" r="1.8" fill="#b8d47a" stroke="#7a8a60" stroke-width="0.45"/>
<circle cx="76.1" cy="48.4" r="2.3" fill="#9a9ccc" stroke="#6a7060" stroke-width="0.45"/>
<circle cx="90.8" cy="53.6" r="2.3" fill="#9a9ccc" stroke="#6a7060" stroke-width="0.45"/>
<circle cx="115.4" cy="50.5" r="2.1" fill="#d8a0c8" stroke="#6a7060" stroke-width="0.45"/>
<circle cx="121.6" cy="58.0" r="2.1" fill="#d8a0c8" stroke="#6a7060" stroke-width="0.45"/>
<circle cx="115.1" cy="65.1" r="2.1" fill="#d8a0c8" stroke="#6a7060" stroke-width="0.45"/>
<circle cx="38.4" cy="76.4" r="2.2" fill="#bcd87c" stroke="#6a7060" stroke-width="0.45"/>
<circle cx="44.7" cy="76.1" r="2.2" fill="#bcd87c" stroke="#6a7060" stroke-width="0.45"/>
<circle cx="48.2" cy="72.7" r="2.2" fill="#bcd87c" stroke="#6a7060" stroke-width="0.45"/>
<circle cx="18.8" cy="114.2" r="2.5" fill="#e8e07c" stroke="#6a7060" stroke-width="0.45"/>
<circle cx="21.9" cy="110.7" r="2.5" fill="#e8e07c" stroke="#6a7060" stroke-width="0.45"/>
<circle cx="18.4" cy="119.0" r="2.5" fill="#e8e07c" stroke="#6a7060" stroke-width="0.45"/>
<circle cx="24.6" cy="119.0" r="2.5" fill="#e8e07c" stroke="#6a7060" stroke-width="0.45"/>
<rect x="27.9" y="121.9" width="3.4" height="3.4" fill="#e8a868" stroke="#a06040" stroke-width="0.4"/>
<rect x="19.2" y="130.9" width="3.4" height="3.4" fill="#e8a868" stroke="#a06040" stroke-width="0.4"/>
<rect x="23.3" y="134.6" width="3.4" height="3.4" fill="#e8a868" stroke="#a06040" stroke-width="0.4"/>
<circle cx="72.8" cy="156.6" r="2.8" fill="#e4e6e0" stroke="#707070" stroke-width="0.45"/>
<circle cx="150.7" cy="98.5" r="2.1" fill="#b8c0b0" stroke="#6a7060" stroke-width="0.45"/>
<circle cx="163.0" cy="103.0" r="2.1" fill="#98acd0" stroke="#6a7060" stroke-width="0.45"/>
<circle cx="167.0" cy="106.0" r="2.1" fill="#98acd0" stroke="#6a7060" stroke-width="0.45"/>
<circle cx="168.5" cy="112.3" r="2.1" fill="#e0c868" stroke="#6a7060" stroke-width="0.45"/>
<circle cx="171.0" cy="116.0" r="2.1" fill="#e0c868" stroke="#6a7060" stroke-width="0.45"/>
<circle cx="163.0" cy="122.3" r="2.1" fill="#8c80d0" stroke="#6a7060" stroke-width="0.45"/>
<circle cx="160.5" cy="125.0" r="2.1" fill="#8c80d0" stroke="#6a7060" stroke-width="0.45"/>
<rect x="163.5" y="126.3" width="3.4" height="3.4" fill="#ec7858" stroke="#a06040" stroke-width="0.4"/>
<rect x="159.0" y="129.5" width="3.4" height="3.4" fill="#ec7858" stroke="#a06040" stroke-width="0.4"/>
<rect x="161.3" y="135.1" width="3.4" height="3.4" fill="#ec7858" stroke="#a06040" stroke-width="0.4"/>
<rect x="165.7" y="135.1" width="3.4" height="3.4" fill="#ec7858" stroke="#a06040" stroke-width="0.4"/>
<rect x="162.3" y="138.5" width="3.4" height="3.4" fill="#ec7858" stroke="#a06040" stroke-width="0.4"/>
<rect x="155.3" y="132.3" width="3.4" height="3.4" fill="#ec7858" stroke="#a06040" stroke-width="0.4"/>
<line x1="3.5" y1="18.5" x2="198.5" y2="18.5" stroke="#848a8e" stroke-width="1"/>
<line x1="3.5" y1="18.5" x2="3.5" y2="168.5" stroke="#6a7070" stroke-width="1"/>
<line x1="198.5" y1="18.5" x2="198.5" y2="168.5" stroke="#7c8480" stroke-width="1"/>
<line x1="3.5" y1="168.5" x2="198.5" y2="168.5" stroke="#98a49a" stroke-width="1"/>
<text x="87.6" y="48.0" font-size="4.6" font-weight="bold" fill="#222" textLength="7.2" lengthAdjust="spacingAndGlyphs">MY</text>
<text x="121.2" y="52.0" font-size="4.6" font-weight="bold" fill="#222" textLength="19.6" lengthAdjust="spacingAndGlyphs">late PM</text>
<text x="41.5" y="71.0" font-size="4.6" font-weight="bold" fill="#222" textLength="7.5" lengthAdjust="spacingAndGlyphs">MM</text>
<text x="137.9" y="75.6" font-size="4.6" font-weight="bold" fill="#222" textLength="22" lengthAdjust="spacingAndGlyphs">early PM</text>
<text x="153.0" y="94.5" font-size="4.6" font-weight="bold" fill="#222" textLength="10.5" lengthAdjust="spacingAndGlyphs">GMP</text>
<text x="163.5" y="103.0" font-size="4.6" font-weight="bold" fill="#222" textLength="10.5" lengthAdjust="spacingAndGlyphs">CMP</text>
<text x="172.0" y="113.6" font-size="4.6" font-weight="bold" fill="#222" textLength="10" lengthAdjust="spacingAndGlyphs">MEP</text>
<text x="153.0" y="121.6" font-size="4.6" font-weight="bold" fill="#222" textLength="10" lengthAdjust="spacingAndGlyphs">MPP</text>
<text x="167.6" y="129.8" font-size="4.6" font-weight="bold" fill="#222" textLength="8.2" lengthAdjust="spacingAndGlyphs">HSC</text>
<text x="20.5" y="110.6" font-size="4.6" font-weight="bold" fill="#222" textLength="6" lengthAdjust="spacingAndGlyphs">BC</text>
<text x="32.0" y="131.2" font-size="4.6" font-weight="bold" fill="#222" textLength="9.5" lengthAdjust="spacingAndGlyphs">PMN</text>
<text x="77.8" y="157.4" font-size="4.9" font-weight="bold" fill="#3a3a3a" textLength="12.8" lengthAdjust="spacingAndGlyphs">Mono</text>
<text x="55.2" y="115.5" font-size="5.2" font-weight="bold" fill="#2a2a2a" textLength="33.4" lengthAdjust="spacingAndGlyphs">AML complex</text>
<text x="55.8" y="121.9" font-size="5.2" font-weight="bold" fill="#2a2a2a" textLength="48.4" lengthAdjust="spacingAndGlyphs">aberrant karyotype</text>
<defs><linearGradient id="gB" gradientUnits="userSpaceOnUse" x1="204" y1="17" x2="309" y2="216"><stop offset="0" stop-color="#f8f6cc"/><stop offset="0.23" stop-color="#f0f0c9"/><stop offset="0.3" stop-color="#eaefcc"/><stop offset="0.4" stop-color="#e1ecd3"/><stop offset="0.6" stop-color="#d4e0e2"/><stop offset="0.67" stop-color="#d2e0e8"/><stop offset="0.76" stop-color="#cddaf0"/><stop offset="1" stop-color="#c8d5f2"/></linearGradient><filter id="blB" x="-30%" y="-30%" width="160%" height="160%"><feGaussianBlur stdDeviation="3"/></filter><filter id="shB" x="-50%" y="-50%" width="200%" height="200%"><feGaussianBlur stdDeviation="1.1"/></filter></defs>
<rect x="204.5" y="18.5" width="195" height="150" fill="url(#gB)" stroke="none"/>
<line x1="204.0" y1="17.5" x2="400.0" y2="17.5" stroke="#c4ccc4" stroke-width="1"/>
<polygon points="305.0,90.0 329.0,84.0 351.0,96.0 353.0,106.0 343.0,118.0 319.0,120.0 309.0,112.0" fill="#98a498" opacity="0.5" filter="url(#blB)"/>
<polygon points="315.0,96.0 335.0,96.0 347.0,104.0 339.0,116.0 323.0,116.0" fill="#7e8a80" opacity="0.45" filter="url(#blB)"/>
<line x1="326.9" y1="113.6" x2="314.1" y2="104.2" stroke="#8f9890" stroke-width="0.4" opacity="0.4"/>
<line x1="334.0" y1="95.0" x2="336.3" y2="113.0" stroke="#8f9890" stroke-width="0.4" opacity="0.4"/>
<line x1="327.6" y1="103.5" x2="316.2" y2="115.0" stroke="#8f9890" stroke-width="0.4" opacity="0.4"/>
<line x1="331.6" y1="114.3" x2="328.3" y2="110.9" stroke="#8f9890" stroke-width="0.4" opacity="0.4"/>
<line x1="339.0" y1="117.0" x2="326.9" y2="95.5" stroke="#8f9890" stroke-width="0.4" opacity="0.4"/>
<line x1="312.1" y1="95.5" x2="318.0" y2="92.0" stroke="#8f9890" stroke-width="0.4" opacity="0.4"/>
<line x1="331.6" y1="102.2" x2="332.3" y2="108.9" stroke="#8f9890" stroke-width="0.4" opacity="0.4"/>
<line x1="340.0" y1="106.0" x2="336.3" y2="113.0" stroke="#8f9890" stroke-width="0.4" opacity="0.4"/>
<line x1="339.0" y1="117.0" x2="326.9" y2="113.6" stroke="#8f9890" stroke-width="0.4" opacity="0.4"/>
<line x1="328.3" y1="110.9" x2="339.0" y2="117.0" stroke="#8f9890" stroke-width="0.4" opacity="0.4"/>
<line x1="326.9" y1="113.6" x2="326.9" y2="95.5" stroke="#8f9890" stroke-width="0.4" opacity="0.4"/>
<line x1="331.6" y1="114.3" x2="326.9" y2="95.5" stroke="#8f9890" stroke-width="0.4" opacity="0.4"/>
<line x1="326.9" y1="113.6" x2="326.9" y2="113.6" stroke="#8f9890" stroke-width="0.4" opacity="0.4"/>
<line x1="308.1" y1="95.5" x2="332.3" y2="108.9" stroke="#8f9890" stroke-width="0.4" opacity="0.4"/>
<line x1="334.0" y1="95.0" x2="330.3" y2="88.1" stroke="#8f9890" stroke-width="0.4" opacity="0.4"/>
<line x1="319.0" y1="100.0" x2="308.1" y2="95.5" stroke="#8f9890" stroke-width="0.4" opacity="0.4"/>
<line x1="334.0" y1="95.0" x2="329.0" y2="117.0" stroke="#8f9890" stroke-width="0.4" opacity="0.4"/>
<line x1="326.9" y1="95.5" x2="330.3" y2="88.1" stroke="#8f9890" stroke-width="0.4" opacity="0.4"/>
<line x1="326.9" y1="95.5" x2="336.3" y2="109.6" stroke="#8f9890" stroke-width="0.4" opacity="0.4"/>
<line x1="319.0" y1="100.0" x2="318.0" y2="92.0" stroke="#8f9890" stroke-width="0.4" opacity="0.4"/>
<line x1="322.2" y1="94.8" x2="331.6" y2="114.3" stroke="#8f9890" stroke-width="0.4" opacity="0.4"/>
<line x1="312.1" y1="95.5" x2="327.6" y2="103.5" stroke="#8f9890" stroke-width="0.4" opacity="0.4"/>
<line x1="340.0" y1="106.0" x2="326.9" y2="113.6" stroke="#8f9890" stroke-width="0.4" opacity="0.4"/>
<line x1="326.9" y1="113.6" x2="331.6" y2="114.3" stroke="#8f9890" stroke-width="0.4" opacity="0.4"/>
<line x1="336.3" y1="109.6" x2="329.0" y2="117.0" stroke="#8f9890" stroke-width="0.4" opacity="0.4"/>
<line x1="334.0" y1="95.0" x2="322.2" y2="94.8" stroke="#8f9890" stroke-width="0.4" opacity="0.4"/>
<line x1="331.6" y1="114.3" x2="312.1" y2="95.5" stroke="#8f9890" stroke-width="0.4" opacity="0.4"/>
<line x1="314.1" y1="104.2" x2="341.7" y2="94.8" stroke="#8f9890" stroke-width="0.4" opacity="0.4"/>
<line x1="316.2" y1="115.0" x2="312.1" y2="95.5" stroke="#8f9890" stroke-width="0.4" opacity="0.4"/>
<line x1="334.0" y1="95.0" x2="322.2" y2="94.8" stroke="#8f9890" stroke-width="0.4" opacity="0.4"/>
<line x1="326.9" y1="113.6" x2="332.3" y2="108.9" stroke="#8f9890" stroke-width="0.4" opacity="0.4"/>
<line x1="331.6" y1="114.3" x2="308.1" y2="95.5" stroke="#8f9890" stroke-width="0.4" opacity="0.4"/>
<line x1="334.0" y1="95.0" x2="316.2" y2="98.8" stroke="#8f9890" stroke-width="0.4" opacity="0.4"/>
<line x1="332.3" y1="108.9" x2="327.6" y2="103.5" stroke="#8f9890" stroke-width="0.4" opacity="0.4"/>
<line x1="319.0" y1="100.0" x2="326.9" y2="113.6" stroke="#8f9890" stroke-width="0.4" opacity="0.4"/>
<line x1="319.0" y1="100.0" x2="326.9" y2="113.6" stroke="#8f9890" stroke-width="0.4" opacity="0.4"/>
<line x1="341.7" y1="94.8" x2="343.0" y2="110.0" stroke="#8f9890" stroke-width="0.4" opacity="0.4"/>
<line x1="316.2" y1="115.0" x2="332.3" y2="108.9" stroke="#8f9890" stroke-width="0.4" opacity="0.4"/>
<line x1="326.9" y1="113.6" x2="331.6" y2="114.3" stroke="#8f9890" stroke-width="0.4" opacity="0.4"/>
<line x1="329.0" y1="117.0" x2="336.3" y2="109.6" stroke="#8f9890" stroke-width="0.4" opacity="0.4"/>
<line x1="326.9" y1="113.6" x2="314.1" y2="104.2" stroke="#8f9890" stroke-width="0.4" opacity="0.4"/>
<line x1="343.0" y1="110.0" x2="326.9" y2="113.6" stroke="#8f9890" stroke-width="0.4" opacity="0.4"/>
<line x1="316.2" y1="115.0" x2="331.6" y2="114.3" stroke="#8f9890" stroke-width="0.4" opacity="0.4"/>
<line x1="341.7" y1="94.8" x2="339.0" y2="117.0" stroke="#8f9890" stroke-width="0.4" opacity="0.4"/>
<line x1="332.3" y1="108.9" x2="326.9" y2="95.5" stroke="#8f9890" stroke-width="0.4" opacity="0.4"/>
<line x1="328.3" y1="110.9" x2="322.2" y2="94.8" stroke="#8f9890" stroke-width="0.4" opacity="0.4"/>
<line x1="336.3" y1="102.2" x2="332.3" y2="108.9" stroke="#8f9890" stroke-width="0.4" opacity="0.4"/>
<line x1="327.6" y1="103.5" x2="316.2" y2="98.8" stroke="#8f9890" stroke-width="0.4" opacity="0.4"/>
<line x1="340.0" y1="106.0" x2="314.1" y2="104.2" stroke="#8f9890" stroke-width="0.4" opacity="0.4"/>
<line x1="328.3" y1="110.9" x2="316.2" y2="98.8" stroke="#8f9890" stroke-width="0.4" opacity="0.4"/>
<line x1="341.7" y1="94.8" x2="340.0" y2="106.0" stroke="#8f9890" stroke-width="0.4" opacity="0.4"/>
<line x1="324.2" y1="106.2" x2="329.0" y2="117.0" stroke="#8f9890" stroke-width="0.4" opacity="0.4"/>
<line x1="322.2" y1="94.8" x2="334.0" y2="95.0" stroke="#8f9890" stroke-width="0.4" opacity="0.4"/>
<line x1="326.9" y1="95.5" x2="343.0" y2="110.0" stroke="#8f9890" stroke-width="0.4" opacity="0.4"/>
<line x1="322.0" y1="110.0" x2="340.0" y2="106.0" stroke="#8f9890" stroke-width="0.4" opacity="0.4"/>
<line x1="331.6" y1="102.2" x2="326.9" y2="95.5" stroke="#8f9890" stroke-width="0.4" opacity="0.4"/>
<line x1="316.2" y1="115.0" x2="326.9" y2="95.5" stroke="#8f9890" stroke-width="0.4" opacity="0.4"/>
<line x1="332.3" y1="108.9" x2="314.1" y2="104.2" stroke="#8f9890" stroke-width="0.4" opacity="0.4"/>
<line x1="318.0" y1="92.0" x2="322.2" y2="94.8" stroke="#8f9890" stroke-width="0.4" opacity="0.4"/>
<line x1="336.3" y1="102.2" x2="336.3" y2="109.6" stroke="#8f9890" stroke-width="0.4" opacity="0.4"/>
<line x1="330.3" y1="88.1" x2="340.0" y2="106.0" stroke="#8f9890" stroke-width="0.4" opacity="0.4"/>
<line x1="339.0" y1="117.0" x2="314.1" y2="104.2" stroke="#8f9890" stroke-width="0.4" opacity="0.4"/>
<line x1="330.3" y1="88.1" x2="343.0" y2="110.0" stroke="#8f9890" stroke-width="0.4" opacity="0.4"/>
<line x1="328.3" y1="110.9" x2="326.9" y2="113.6" stroke="#8f9890" stroke-width="0.4" opacity="0.4"/>
<line x1="336.3" y1="102.2" x2="327.6" y2="103.5" stroke="#8f9890" stroke-width="0.4" opacity="0.4"/>
<line x1="328.3" y1="110.9" x2="341.7" y2="94.8" stroke="#8f9890" stroke-width="0.4" opacity="0.4"/>
<line x1="331.6" y1="102.2" x2="327.6" y2="103.5" stroke="#8f9890" stroke-width="0.4" opacity="0.4"/>
<line x1="316.2" y1="98.8" x2="318.0" y2="92.0" stroke="#8f9890" stroke-width="0.4" opacity="0.4"/>
<line x1="331.6" y1="102.2" x2="308.1" y2="95.5" stroke="#8f9890" stroke-width="0.4" opacity="0.4"/>
<line x1="327.6" y1="103.5" x2="331.6" y2="114.3" stroke="#8f9890" stroke-width="0.4" opacity="0.4"/>
<line x1="332.3" y1="108.9" x2="332.3" y2="108.9" stroke="#8f9890" stroke-width="0.4" opacity="0.4"/>
<line x1="343.0" y1="110.0" x2="308.1" y2="95.5" stroke="#8f9890" stroke-width="0.4" opacity="0.4"/>
<line x1="336.3" y1="102.2" x2="327.6" y2="103.5" stroke="#8f9890" stroke-width="0.4" opacity="0.4"/>
<line x1="326.9" y1="113.6" x2="319.0" y2="100.0" stroke="#8f9890" stroke-width="0.4" opacity="0.4"/>
<line x1="324.2" y1="106.2" x2="326.9" y2="113.6" stroke="#8f9890" stroke-width="0.4" opacity="0.4"/>
<line x1="316.2" y1="98.8" x2="322.2" y2="94.8" stroke="#8f9890" stroke-width="0.4" opacity="0.4"/>
<line x1="329.0" y1="117.0" x2="314.1" y2="104.2" stroke="#8f9890" stroke-width="0.4" opacity="0.4"/>
<line x1="322.2" y1="94.8" x2="316.2" y2="98.8" stroke="#8f9890" stroke-width="0.4" opacity="0.4"/>
<line x1="316.2" y1="115.0" x2="316.2" y2="115.0" stroke="#8f9890" stroke-width="0.4" opacity="0.4"/>
<line x1="312.1" y1="95.5" x2="334.0" y2="95.0" stroke="#8f9890" stroke-width="0.4" opacity="0.4"/>
<polygon points="327.0,99.0 352.0,101.0 352.0,104.0 329.0,109.0" fill="#e4f030" opacity="0.6" filter="url(#blB)"/>
<line x1="327.6" y1="103.5" x2="351.5" y2="101.4" stroke="#d8ec38" stroke-width="0.5" opacity="0.6"/>
<line x1="336.3" y1="113.0" x2="352.7" y2="103.0" stroke="#d8ec38" stroke-width="0.5" opacity="0.6"/>
<line x1="328.3" y1="110.9" x2="351.8" y2="102.6" stroke="#d8ec38" stroke-width="0.5" opacity="0.6"/>
<line x1="343.0" y1="110.0" x2="352.1" y2="103.1" stroke="#d8ec38" stroke-width="0.5" opacity="0.6"/>
<line x1="330.3" y1="88.1" x2="351.6" y2="103.4" stroke="#d8ec38" stroke-width="0.5" opacity="0.6"/>
<line x1="327.6" y1="103.5" x2="351.9" y2="101.2" stroke="#d8ec38" stroke-width="0.5" opacity="0.6"/>
<line x1="322.2" y1="94.8" x2="352.3" y2="103.4" stroke="#d8ec38" stroke-width="0.5" opacity="0.6"/>
<line x1="330.3" y1="88.1" x2="352.2" y2="101.7" stroke="#d8ec38" stroke-width="0.5" opacity="0.6"/>
<line x1="328.3" y1="110.9" x2="352.7" y2="102.4" stroke="#d8ec38" stroke-width="0.5" opacity="0.6"/>
<line x1="336.3" y1="109.6" x2="353.0" y2="102.3" stroke="#d8ec38" stroke-width="0.5" opacity="0.6"/>
<line x1="328.3" y1="110.9" x2="352.2" y2="101.1" stroke="#d8ec38" stroke-width="0.5" opacity="0.6"/>
<line x1="336.3" y1="102.2" x2="352.9" y2="103.9" stroke="#d8ec38" stroke-width="0.5" opacity="0.6"/>
<line x1="328.3" y1="110.9" x2="351.1" y2="101.6" stroke="#d8ec38" stroke-width="0.5" opacity="0.6"/>
<line x1="332.3" y1="108.9" x2="352.3" y2="102.6" stroke="#d8ec38" stroke-width="0.5" opacity="0.6"/>
<line x1="331.6" y1="102.2" x2="351.6" y2="102.5" stroke="#d8ec38" stroke-width="0.5" opacity="0.6"/>
<line x1="327.6" y1="103.5" x2="351.5" y2="103.4" stroke="#d8ec38" stroke-width="0.5" opacity="0.6"/>
<line x1="328.3" y1="110.9" x2="351.1" y2="101.1" stroke="#d8ec38" stroke-width="0.5" opacity="0.6"/>
<line x1="343.0" y1="110.0" x2="352.1" y2="101.6" stroke="#d8ec38" stroke-width="0.5" opacity="0.6"/>
<line x1="340.0" y1="106.0" x2="351.5" y2="102.3" stroke="#d8ec38" stroke-width="0.5" opacity="0.6"/>
<line x1="336.3" y1="113.0" x2="352.3" y2="102.6" stroke="#d8ec38" stroke-width="0.5" opacity="0.6"/>
<line x1="331.6" y1="114.3" x2="352.9" y2="101.9" stroke="#d8ec38" stroke-width="0.5" opacity="0.6"/>
<line x1="331.6" y1="102.2" x2="353.0" y2="102.0" stroke="#d8ec38" stroke-width="0.5" opacity="0.6"/>
<line x1="324.2" y1="106.2" x2="351.8" y2="102.0" stroke="#d8ec38" stroke-width="0.5" opacity="0.6"/>
<line x1="326.9" y1="95.5" x2="352.7" y2="101.0" stroke="#d8ec38" stroke-width="0.5" opacity="0.6"/>
<line x1="315.0" y1="64.0" x2="289.4" y2="85.6" stroke="#d070a0" stroke-width="0.6" opacity="1"/>
<line x1="316.1" y1="65.1" x2="308.3" y2="95.6" stroke="#d070a0" stroke-width="0.6" opacity="1"/>
<line x1="336.0" y1="112.0" x2="363.0" y2="132.0" stroke="#e86040" stroke-width="0.6" opacity="1"/>
<circle cx="335.1" cy="76.8" r="3.2" fill="#6a7478" opacity="0.45" filter="url(#shB)"/>
<path d="M331.4 75.4L336.0 72.9L336.0 77.9Z" fill="#eceee8" stroke="#8a8a8a" stroke-width="0.5"/>
<circle cx="290.5" cy="87.0" r="3.3" fill="#6a7478" opacity="0.45" filter="url(#shB)"/>
<circle cx="309.2" cy="96.9" r="3.1" fill="#6a7478" opacity="0.45" filter="url(#shB)"/>
<circle cx="313.2" cy="96.9" r="3.1" fill="#6a7478" opacity="0.45" filter="url(#shB)"/>
<circle cx="317.3" cy="100.2" r="3.1" fill="#6a7478" opacity="0.45" filter="url(#shB)"/>
<circle cx="323.3" cy="96.2" r="3.1" fill="#6a7478" opacity="0.45" filter="url(#shB)"/>
<circle cx="328.0" cy="96.9" r="3.1" fill="#6a7478" opacity="0.45" filter="url(#shB)"/>
<circle cx="331.4" cy="89.5" r="3.1" fill="#6a7478" opacity="0.45" filter="url(#shB)"/>
<circle cx="342.8" cy="96.2" r="3.1" fill="#6a7478" opacity="0.45" filter="url(#shB)"/>
<circle cx="315.2" cy="105.6" r="3.1" fill="#6a7478" opacity="0.45" filter="url(#shB)"/>
<circle cx="317.3" cy="116.4" r="3.1" fill="#6a7478" opacity="0.45" filter="url(#shB)"/>
<circle cx="325.3" cy="107.6" r="3.1" fill="#6a7478" opacity="0.45" filter="url(#shB)"/>
<circle cx="328.7" cy="104.9" r="3.1" fill="#6a7478" opacity="0.45" filter="url(#shB)"/>
<circle cx="332.7" cy="103.6" r="3.1" fill="#6a7478" opacity="0.45" filter="url(#shB)"/>
<circle cx="337.4" cy="103.6" r="3.1" fill="#6a7478" opacity="0.45" filter="url(#shB)"/>
<circle cx="329.4" cy="112.3" r="3.1" fill="#6a7478" opacity="0.45" filter="url(#shB)"/>
<circle cx="333.4" cy="110.3" r="3.1" fill="#6a7478" opacity="0.45" filter="url(#shB)"/>
<circle cx="337.4" cy="111.0" r="3.1" fill="#6a7478" opacity="0.45" filter="url(#shB)"/>
<circle cx="328.0" cy="115.0" r="3.1" fill="#6a7478" opacity="0.45" filter="url(#shB)"/>
<circle cx="332.7" cy="115.7" r="3.1" fill="#6a7478" opacity="0.45" filter="url(#shB)"/>
<circle cx="337.4" cy="114.4" r="3.1" fill="#6a7478" opacity="0.45" filter="url(#shB)"/>
<circle cx="320.1" cy="101.4" r="3.1" fill="#6a7478" opacity="0.45" filter="url(#shB)"/>
<circle cx="323.1" cy="111.4" r="3.1" fill="#6a7478" opacity="0.45" filter="url(#shB)"/>
<circle cx="341.1" cy="107.4" r="3.1" fill="#6a7478" opacity="0.45" filter="url(#shB)"/>
<circle cx="344.1" cy="111.4" r="3.1" fill="#6a7478" opacity="0.45" filter="url(#shB)"/>
<circle cx="319.1" cy="93.4" r="3.1" fill="#6a7478" opacity="0.45" filter="url(#shB)"/>
<circle cx="335.1" cy="96.4" r="3.1" fill="#6a7478" opacity="0.45" filter="url(#shB)"/>
<circle cx="330.1" cy="118.4" r="3.1" fill="#6a7478" opacity="0.45" filter="url(#shB)"/>
<circle cx="340.1" cy="118.4" r="3.1" fill="#6a7478" opacity="0.45" filter="url(#shB)"/>
<circle cx="350.6" cy="130.4" r="3.3" fill="#6a7478" opacity="0.45" filter="url(#shB)"/>
<circle cx="362.8" cy="131.5" r="3.3" fill="#6a7478" opacity="0.45" filter="url(#shB)"/>
<circle cx="278.2" cy="49.8" r="3.5" fill="#6a7478" opacity="0.45" filter="url(#shB)"/>
<circle cx="292.9" cy="55.0" r="3.5" fill="#6a7478" opacity="0.45" filter="url(#shB)"/>
<circle cx="317.5" cy="51.9" r="3.3" fill="#6a7478" opacity="0.45" filter="url(#shB)"/>
<circle cx="323.7" cy="59.4" r="3.3" fill="#6a7478" opacity="0.45" filter="url(#shB)"/>
<circle cx="317.2" cy="66.5" r="3.3" fill="#6a7478" opacity="0.45" filter="url(#shB)"/>
<circle cx="240.5" cy="77.8" r="3.4" fill="#6a7478" opacity="0.45" filter="url(#shB)"/>
<circle cx="246.8" cy="77.5" r="3.4" fill="#6a7478" opacity="0.45" filter="url(#shB)"/>
<circle cx="250.3" cy="74.1" r="3.4" fill="#6a7478" opacity="0.45" filter="url(#shB)"/>
<circle cx="220.9" cy="115.6" r="3.7" fill="#6a7478" opacity="0.45" filter="url(#shB)"/>
<circle cx="224.0" cy="112.1" r="3.7" fill="#6a7478" opacity="0.45" filter="url(#shB)"/>
<circle cx="220.5" cy="120.4" r="3.7" fill="#6a7478" opacity="0.45" filter="url(#shB)"/>
<circle cx="226.7" cy="120.4" r="3.7" fill="#6a7478" opacity="0.45" filter="url(#shB)"/>
<circle cx="231.7" cy="125.0" r="2.9" fill="#6a7478" opacity="0.45" filter="url(#shB)"/>
<circle cx="223.0" cy="134.0" r="2.9" fill="#6a7478" opacity="0.45" filter="url(#shB)"/>
<circle cx="227.1" cy="137.7" r="2.9" fill="#6a7478" opacity="0.45" filter="url(#shB)"/>
<circle cx="274.9" cy="158.0" r="4.0" fill="#6a7478" opacity="0.45" filter="url(#shB)"/>
<circle cx="352.8" cy="99.9" r="3.3" fill="#6a7478" opacity="0.45" filter="url(#shB)"/>
<circle cx="365.1" cy="104.4" r="3.3" fill="#6a7478" opacity="0.45" filter="url(#shB)"/>
<circle cx="369.1" cy="107.4" r="3.3" fill="#6a7478" opacity="0.45" filter="url(#shB)"/>
<circle cx="370.6" cy="113.7" r="3.3" fill="#6a7478" opacity="0.45" filter="url(#shB)"/>
<circle cx="373.1" cy="117.4" r="3.3" fill="#6a7478" opacity="0.45" filter="url(#shB)"/>
<circle cx="365.1" cy="123.7" r="3.3" fill="#6a7478" opacity="0.45" filter="url(#shB)"/>
<circle cx="362.6" cy="126.4" r="3.3" fill="#6a7478" opacity="0.45" filter="url(#shB)"/>
<circle cx="367.3" cy="129.4" r="2.9" fill="#6a7478" opacity="0.45" filter="url(#shB)"/>
<circle cx="362.8" cy="132.6" r="2.9" fill="#6a7478" opacity="0.45" filter="url(#shB)"/>
<circle cx="365.1" cy="138.2" r="2.9" fill="#6a7478" opacity="0.45" filter="url(#shB)"/>
<circle cx="369.5" cy="138.2" r="2.9" fill="#6a7478" opacity="0.45" filter="url(#shB)"/>
<circle cx="366.1" cy="141.6" r="2.9" fill="#6a7478" opacity="0.45" filter="url(#shB)"/>
<circle cx="359.1" cy="135.4" r="2.9" fill="#6a7478" opacity="0.45" filter="url(#shB)"/>
<circle cx="289.4" cy="85.6" r="2.1" fill="#eca050" stroke="#6a7060" stroke-width="0.45"/>
<circle cx="308.1" cy="95.5" r="1.9" fill="#e8a45c" stroke="#9a7048" stroke-width="0.45"/>
<circle cx="312.1" cy="95.5" r="1.9" fill="#e8a45c" stroke="#9a7048" stroke-width="0.45"/>
<circle cx="316.2" cy="98.8" r="1.9" fill="#e8a45c" stroke="#9a7048" stroke-width="0.45"/>
<circle cx="322.2" cy="94.8" r="1.9" fill="#e8a45c" stroke="#9a7048" stroke-width="0.45"/>
<circle cx="326.9" cy="95.5" r="1.9" fill="#e8a45c" stroke="#9a7048" stroke-width="0.45"/>
<circle cx="330.3" cy="88.1" r="1.9" fill="#e8a45c" stroke="#9a7048" stroke-width="0.45"/>
<circle cx="341.7" cy="94.8" r="1.9" fill="#e8a45c" stroke="#9a7048" stroke-width="0.45"/>
<circle cx="314.1" cy="104.2" r="1.9" fill="#e8a45c" stroke="#9a7048" stroke-width="0.45"/>
<circle cx="316.2" cy="115.0" r="1.9" fill="#e8a45c" stroke="#9a7048" stroke-width="0.45"/>
<circle cx="324.2" cy="106.2" r="1.9" fill="#e8a45c" stroke="#9a7048" stroke-width="0.45"/>
<circle cx="327.6" cy="103.5" r="1.9" fill="#e8a45c" stroke="#9a7048" stroke-width="0.45"/>
<circle cx="331.6" cy="102.2" r="1.9" fill="#e8a45c" stroke="#9a7048" stroke-width="0.45"/>
<circle cx="336.3" cy="102.2" r="1.9" fill="#e8a45c" stroke="#9a7048" stroke-width="0.45"/>
<circle cx="328.3" cy="110.9" r="1.9" fill="#e8a45c" stroke="#9a7048" stroke-width="0.45"/>
<circle cx="332.3" cy="108.9" r="1.9" fill="#e8a45c" stroke="#9a7048" stroke-width="0.45"/>
<circle cx="336.3" cy="109.6" r="1.9" fill="#e8a45c" stroke="#9a7048" stroke-width="0.45"/>
<circle cx="326.9" cy="113.6" r="1.9" fill="#e8a45c" stroke="#9a7048" stroke-width="0.45"/>
<circle cx="331.6" cy="114.3" r="1.9" fill="#e8a45c" stroke="#9a7048" stroke-width="0.45"/>
<circle cx="336.3" cy="113.0" r="1.9" fill="#e8a45c" stroke="#9a7048" stroke-width="0.45"/>
<circle cx="319.0" cy="100.0" r="1.9" fill="#e8a45c" stroke="#9a7048" stroke-width="0.45"/>
<circle cx="322.0" cy="110.0" r="1.9" fill="#e8a45c" stroke="#9a7048" stroke-width="0.45"/>
<circle cx="340.0" cy="106.0" r="1.9" fill="#e8a45c" stroke="#9a7048" stroke-width="0.45"/>
<circle cx="343.0" cy="110.0" r="1.9" fill="#e8a45c" stroke="#9a7048" stroke-width="0.45"/>
<circle cx="318.0" cy="92.0" r="1.9" fill="#e8a45c" stroke="#9a7048" stroke-width="0.45"/>
<circle cx="334.0" cy="95.0" r="1.9" fill="#e8a45c" stroke="#9a7048" stroke-width="0.45"/>
<circle cx="329.0" cy="117.0" r="1.9" fill="#e8a45c" stroke="#9a7048" stroke-width="0.45"/>
<circle cx="339.0" cy="117.0" r="1.9" fill="#e8a45c" stroke="#9a7048" stroke-width="0.45"/>
<circle cx="349.5" cy="129.0" r="2.1" fill="#eca050" stroke="#6a7060" stroke-width="0.45"/>
<circle cx="361.7" cy="130.1" r="2.1" fill="#eca050" stroke="#6a7060" stroke-width="0.45"/>
<circle cx="277.1" cy="48.4" r="2.3" fill="#9a9ccc" stroke="#6a7060" stroke-width="0.45"/>
<circle cx="291.8" cy="53.6" r="2.3" fill="#9a9ccc" stroke="#6a7060" stroke-width="0.45"/>
<circle cx="316.4" cy="50.5" r="2.1" fill="#d8a0c8" stroke="#6a7060" stroke-width="0.45"/>
<circle cx="322.6" cy="58.0" r="2.1" fill="#d8a0c8" stroke="#6a7060" stroke-width="0.45"/>
<circle cx="316.1" cy="65.1" r="2.1" fill="#d8a0c8" stroke="#6a7060" stroke-width="0.45"/>
<circle cx="239.4" cy="76.4" r="2.2" fill="#bcd87c" stroke="#6a7060" stroke-width="0.45"/>
<circle cx="245.7" cy="76.1" r="2.2" fill="#bcd87c" stroke="#6a7060" stroke-width="0.45"/>
<circle cx="249.2" cy="72.7" r="2.2" fill="#bcd87c" stroke="#6a7060" stroke-width="0.45"/>
<circle cx="219.8" cy="114.2" r="2.5" fill="#e8e07c" stroke="#6a7060" stroke-width="0.45"/>
<circle cx="222.9" cy="110.7" r="2.5" fill="#e8e07c" stroke="#6a7060" stroke-width="0.45"/>
<circle cx="219.4" cy="119.0" r="2.5" fill="#e8e07c" stroke="#6a7060" stroke-width="0.45"/>
<circle cx="225.6" cy="119.0" r="2.5" fill="#e8e07c" stroke="#6a7060" stroke-width="0.45"/>
<rect x="228.9" y="121.9" width="3.4" height="3.4" fill="#e8a868" stroke="#a06040" stroke-width="0.4"/>
<rect x="220.2" y="130.9" width="3.4" height="3.4" fill="#e8a868" stroke="#a06040" stroke-width="0.4"/>
<rect x="224.3" y="134.6" width="3.4" height="3.4" fill="#e8a868" stroke="#a06040" stroke-width="0.4"/>
<circle cx="273.8" cy="156.6" r="2.8" fill="#e4e6e0" stroke="#707070" stroke-width="0.45"/>
<circle cx="351.7" cy="98.5" r="2.1" fill="#b8c0b0" stroke="#6a7060" stroke-width="0.45"/>
<circle cx="364.0" cy="103.0" r="2.1" fill="#98acd0" stroke="#6a7060" stroke-width="0.45"/>
<circle cx="368.0" cy="106.0" r="2.1" fill="#98acd0" stroke="#6a7060" stroke-width="0.45"/>
<circle cx="369.5" cy="112.3" r="2.1" fill="#e0c868" stroke="#6a7060" stroke-width="0.45"/>
<circle cx="372.0" cy="116.0" r="2.1" fill="#e0c868" stroke="#6a7060" stroke-width="0.45"/>
<circle cx="364.0" cy="122.3" r="2.1" fill="#8c80d0" stroke="#6a7060" stroke-width="0.45"/>
<circle cx="361.5" cy="125.0" r="2.1" fill="#8c80d0" stroke="#6a7060" stroke-width="0.45"/>
<rect x="364.5" y="126.3" width="3.4" height="3.4" fill="#ec7858" stroke="#a06040" stroke-width="0.4"/>
<rect x="360.0" y="129.5" width="3.4" height="3.4" fill="#ec7858" stroke="#a06040" stroke-width="0.4"/>
<rect x="362.3" y="135.1" width="3.4" height="3.4" fill="#ec7858" stroke="#a06040" stroke-width="0.4"/>
<rect x="366.7" y="135.1" width="3.4" height="3.4" fill="#ec7858" stroke="#a06040" stroke-width="0.4"/>
<rect x="363.3" y="138.5" width="3.4" height="3.4" fill="#ec7858" stroke="#a06040" stroke-width="0.4"/>
<rect x="356.3" y="132.3" width="3.4" height="3.4" fill="#ec7858" stroke="#a06040" stroke-width="0.4"/>
<line x1="204.5" y1="18.5" x2="399.5" y2="18.5" stroke="#848a8e" stroke-width="1"/>
<line x1="204.5" y1="18.5" x2="204.5" y2="168.5" stroke="#6a7070" stroke-width="1"/>
<line x1="399.5" y1="18.5" x2="399.5" y2="168.5" stroke="#7c8480" stroke-width="1"/>
<line x1="204.5" y1="168.5" x2="399.5" y2="168.5" stroke="#98a49a" stroke-width="1"/>
<text x="288.6" y="48.0" font-size="4.6" font-weight="bold" fill="#222" textLength="7.2" lengthAdjust="spacingAndGlyphs">MY</text>
<text x="322.2" y="52.0" font-size="4.6" font-weight="bold" fill="#222" textLength="19.6" lengthAdjust="spacingAndGlyphs">late PM</text>
<text x="242.5" y="71.0" font-size="4.6" font-weight="bold" fill="#222" textLength="7.5" lengthAdjust="spacingAndGlyphs">MM</text>
<text x="338.9" y="75.6" font-size="4.6" font-weight="bold" fill="#222" textLength="22" lengthAdjust="spacingAndGlyphs">early PM</text>
<text x="354.0" y="94.5" font-size="4.6" font-weight="bold" fill="#222" textLength="10.5" lengthAdjust="spacingAndGlyphs">GMP</text>
<text x="364.5" y="103.0" font-size="4.6" font-weight="bold" fill="#222" textLength="10.5" lengthAdjust="spacingAndGlyphs">CMP</text>
<text x="373.0" y="113.6" font-size="4.6" font-weight="bold" fill="#222" textLength="10" lengthAdjust="spacingAndGlyphs">MEP</text>
<text x="354.0" y="121.6" font-size="4.6" font-weight="bold" fill="#222" textLength="10" lengthAdjust="spacingAndGlyphs">MPP</text>
<text x="368.6" y="129.8" font-size="4.6" font-weight="bold" fill="#222" textLength="8.2" lengthAdjust="spacingAndGlyphs">HSC</text>
<text x="221.5" y="110.6" font-size="4.6" font-weight="bold" fill="#222" textLength="6" lengthAdjust="spacingAndGlyphs">BC</text>
<text x="233.0" y="131.2" font-size="4.6" font-weight="bold" fill="#222" textLength="9.5" lengthAdjust="spacingAndGlyphs">PMN</text>
<text x="278.8" y="157.4" font-size="4.9" font-weight="bold" fill="#3a3a3a" textLength="12.8" lengthAdjust="spacingAndGlyphs">Mono</text>
<text x="265.0" y="113.9" font-size="5.4" font-weight="bold" fill="#bb2a1c" textLength="45.6" lengthAdjust="spacingAndGlyphs">AML with t(15;17)</text>
<rect x="405.5" y="18.5" width="105" height="126" fill="#fff" stroke="#505458" stroke-width="1"/>
<text x="422.2" y="25.5" font-size="8.8" textLength="17.4" lengthAdjust="spacingAndGlyphs" fill="#111" stroke="#111" stroke-width="0.25">HSC</text>
<rect x="407.4" y="20.7" width="4.2" height="4" fill="#f08a68" stroke="#c07050" stroke-width="0.4"/>
<rect x="411.7" y="20.7" width="4.2" height="4" fill="#f08a68" stroke="#c07050" stroke-width="0.4"/>
<rect x="416.0" y="20.7" width="4.2" height="4" fill="#f08a68" stroke="#c07050" stroke-width="0.4"/>
<text x="422.2" y="33.4" font-size="8.8" textLength="17.6" lengthAdjust="spacingAndGlyphs" fill="#111" stroke="#111" stroke-width="0.25">MPP</text>
<circle cx="409.5" cy="30.6" r="2.6" fill="#8886d8" stroke="#999" stroke-width="0.5"/>
<circle cx="413.8" cy="30.6" r="2.6" fill="#8886d8" stroke="#999" stroke-width="0.5"/>
<circle cx="418.1" cy="30.6" r="2.6" fill="#8886d8" stroke="#999" stroke-width="0.5"/>
<text x="422.2" y="41.9" font-size="8.8" textLength="17.3" lengthAdjust="spacingAndGlyphs" fill="#111" stroke="#111" stroke-width="0.25">MEP</text>
<path d="M406.9 36.8L412.1 36.8L409.5 41.6Z" fill="#f0d060" stroke="#a08030" stroke-width="0.3"/>
<path d="M411.2 36.8L416.4 36.8L413.8 41.6Z" fill="#f0d060" stroke="#a08030" stroke-width="0.3"/>
<path d="M415.5 36.8L420.7 36.8L418.1 41.6Z" fill="#f0d060" stroke="#a08030" stroke-width="0.3"/>
<text x="422.2" y="50.1" font-size="8.8" textLength="18.7" lengthAdjust="spacingAndGlyphs" fill="#111" stroke="#111" stroke-width="0.25">CMP</text>
<path d="M406.9 49.6L412.1 49.6L409.5 44.8Z" fill="#88a8e0" stroke="#5070b0" stroke-width="0.3"/>
<path d="M411.2 49.6L416.4 49.6L413.8 44.8Z" fill="#88a8e0" stroke="#5070b0" stroke-width="0.3"/>
<path d="M415.5 49.6L420.7 49.6L418.1 44.8Z" fill="#88a8e0" stroke="#5070b0" stroke-width="0.3"/>
<text x="422.2" y="57.6" font-size="8.8" textLength="19.3" lengthAdjust="spacingAndGlyphs" fill="#111" stroke="#111" stroke-width="0.25">GMP</text>
<path d="M407.2 52.2L407.2 57.4L412.0 54.8Z" fill="#bce474" stroke="#80a040" stroke-width="0.3"/>
<path d="M411.5 52.2L411.5 57.4L416.3 54.8Z" fill="#bce474" stroke="#80a040" stroke-width="0.3"/>
<path d="M415.8 52.2L415.8 57.4L420.6 54.8Z" fill="#bce474" stroke="#80a040" stroke-width="0.3"/>
<text x="422.2" y="66.2" font-size="8.8" textLength="38.5" lengthAdjust="spacingAndGlyphs" fill="#111" stroke="#111" stroke-width="0.25">early PM</text>
<path d="M411.8 60.8L411.8 66.0L407.0 63.4Z" fill="#fff" stroke="#999" stroke-width="0.5"/>
<path d="M416.1 60.8L416.1 66.0L411.3 63.4Z" fill="#fff" stroke="#999" stroke-width="0.5"/>
<path d="M420.4 60.8L420.4 66.0L415.6 63.4Z" fill="#fff" stroke="#999" stroke-width="0.5"/>
<text x="422.2" y="75.6" font-size="8.8" textLength="32.7" lengthAdjust="spacingAndGlyphs" fill="#111" stroke="#111" stroke-width="0.25">late PM</text>
<path d="M409.5 70.0L412.2 72.8L409.5 75.6L406.8 72.8Z" fill="#e08ac8" stroke="#a05090" stroke-width="0.3"/>
<path d="M413.8 70.0L416.5 72.8L413.8 75.6L411.1 72.8Z" fill="#e08ac8" stroke="#a05090" stroke-width="0.3"/>
<path d="M418.1 70.0L420.8 72.8L418.1 75.6L415.4 72.8Z" fill="#e08ac8" stroke="#a05090" stroke-width="0.3"/>
<text x="422.2" y="84.2" font-size="8.8" textLength="11.5" lengthAdjust="spacingAndGlyphs" fill="#111" stroke="#111" stroke-width="0.25">MY</text>
<circle cx="409.5" cy="81.4" r="2.6" fill="#8088d0" stroke="#999" stroke-width="0.5"/>
<circle cx="413.8" cy="81.4" r="2.6" fill="#8088d0" stroke="#999" stroke-width="0.5"/>
<circle cx="418.1" cy="81.4" r="2.6" fill="#8088d0" stroke="#999" stroke-width="0.5"/>
<text x="422.2" y="92.9" font-size="8.8" textLength="14.4" lengthAdjust="spacingAndGlyphs" fill="#111" stroke="#111" stroke-width="0.25">MM</text>
<circle cx="409.5" cy="90.1" r="2.6" fill="#a4d47c" stroke="#999" stroke-width="0.5"/>
<circle cx="413.8" cy="90.1" r="2.6" fill="#a4d47c" stroke="#999" stroke-width="0.5"/>
<circle cx="418.1" cy="90.1" r="2.6" fill="#a4d47c" stroke="#999" stroke-width="0.5"/>
<text x="422.2" y="101.8" font-size="8.8" textLength="11" lengthAdjust="spacingAndGlyphs" fill="#111" stroke="#111" stroke-width="0.25">BC</text>
<circle cx="409.5" cy="99.0" r="2.6" fill="#f0e468" stroke="#999" stroke-width="0.5"/>
<circle cx="413.8" cy="99.0" r="2.6" fill="#f0e468" stroke="#999" stroke-width="0.5"/>
<circle cx="418.1" cy="99.0" r="2.6" fill="#f0e468" stroke="#999" stroke-width="0.5"/>
<text x="422.2" y="109.9" font-size="8.8" textLength="18.4" lengthAdjust="spacingAndGlyphs" fill="#111" stroke="#111" stroke-width="0.25">PMN</text>
<circle cx="409.5" cy="107.1" r="2.6" fill="#f0a070" stroke="#999" stroke-width="0.5"/>
<circle cx="413.8" cy="107.1" r="2.6" fill="#f0a070" stroke="#999" stroke-width="0.5"/>
<circle cx="418.1" cy="107.1" r="2.6" fill="#f0a070" stroke="#999" stroke-width="0.5"/>
<text x="422.2" y="118.5" font-size="8.8" textLength="23.1" lengthAdjust="spacingAndGlyphs" fill="#111" stroke="#111" stroke-width="0.25">Mono</text>
<circle cx="409.5" cy="115.7" r="2.6" fill="#f6f2e8" stroke="#999" stroke-width="0.5"/>
<circle cx="413.8" cy="115.7" r="2.6" fill="#f6f2e8" stroke="#999" stroke-width="0.5"/>
<circle cx="418.1" cy="115.7" r="2.6" fill="#f6f2e8" stroke="#999" stroke-width="0.5"/>
<text x="422.2" y="126.3" font-size="8.8" textLength="79" lengthAdjust="spacingAndGlyphs" fill="#111" stroke="#111" stroke-width="0.25">AML with t(15:17)</text>
<circle cx="409.5" cy="123.5" r="2.1" fill="#f09048" stroke="#b0b0b0" stroke-width="0.4"/>
<circle cx="413.8" cy="123.5" r="2.1" fill="#f09048" stroke="#b0b0b0" stroke-width="0.4"/>
<circle cx="418.1" cy="123.5" r="2.1" fill="#f09048" stroke="#b0b0b0" stroke-width="0.4"/>
<text x="422.2" y="132.2" font-size="8.8" textLength="58.8" lengthAdjust="spacingAndGlyphs" fill="#111" stroke="#111" stroke-width="0.25">AML complex</text>
<circle cx="409.5" cy="129.4" r="2.1" fill="#98d070" stroke="#b0b0b0" stroke-width="0.4"/>
<circle cx="413.8" cy="129.4" r="2.1" fill="#98d070" stroke="#b0b0b0" stroke-width="0.4"/>
<circle cx="418.1" cy="129.4" r="2.1" fill="#98d070" stroke="#b0b0b0" stroke-width="0.4"/>
<text x="422.2" y="141" font-size="8.8" textLength="85" lengthAdjust="spacingAndGlyphs" fill="#111" stroke="#111" stroke-width="0.25">aberrant karyotype</text>
<text transform="translate(7.5,187.7) scale(0.86,1)" font-size="14.5" fill="#000" stroke="#000" stroke-width="0.1">C</text>
<text transform="translate(206.1,187.6) scale(1.01,1)" font-size="14.5" fill="#000" stroke="#000" stroke-width="0.1">D</text>
<text transform="translate(376.1,187.8) scale(0.785,1)" font-size="14.5" fill="#000" stroke="#000" stroke-width="0.1">E</text>
<text x="56.8" y="199.5" font-size="8.8" textLength="97.5" lengthAdjust="spacingAndGlyphs" fill="#1a1a1a" stroke="#1a1a1a" stroke-width="0.22">Combined survival signature</text>
<rect x="38.5" y="201.5" width="134.0" height="121.0" fill="#fff" stroke="#b4bcb4" stroke-width="1"/>
<line x1="39.5" y1="317.5" x2="171.5" y2="317.5" stroke="#d6d2e6" stroke-width="1" stroke-dasharray="1 1.2"/>
<text x="37.2" y="319.1" font-size="6.6" text-anchor="end" textLength="8.1" lengthAdjust="spacingAndGlyphs" fill="#1a1a1a" stroke="#1a1a1a" stroke-width="0.15">0.0</text>
<line x1="39.5" y1="295.5" x2="171.5" y2="295.5" stroke="#d6d2e6" stroke-width="1" stroke-dasharray="1 1.2"/>
<text x="37.2" y="297.0" font-size="6.6" text-anchor="end" textLength="8.1" lengthAdjust="spacingAndGlyphs" fill="#1a1a1a" stroke="#1a1a1a" stroke-width="0.15">0.2</text>
<line x1="39.5" y1="273.5" x2="171.5" y2="273.5" stroke="#d6d2e6" stroke-width="1" stroke-dasharray="1 1.2"/>
<text x="37.2" y="274.8" font-size="6.6" text-anchor="end" textLength="8.1" lengthAdjust="spacingAndGlyphs" fill="#1a1a1a" stroke="#1a1a1a" stroke-width="0.15">0.4</text>
<line x1="39.5" y1="251.5" x2="171.5" y2="251.5" stroke="#d6d2e6" stroke-width="1" stroke-dasharray="1 1.2"/>
<text x="37.2" y="252.7" font-size="6.6" text-anchor="end" textLength="8.1" lengthAdjust="spacingAndGlyphs" fill="#1a1a1a" stroke="#1a1a1a" stroke-width="0.15">0.6</text>
<line x1="39.5" y1="228.5" x2="171.5" y2="228.5" stroke="#d6d2e6" stroke-width="1" stroke-dasharray="1 1.2"/>
<text x="37.2" y="230.5" font-size="6.6" text-anchor="end" textLength="8.1" lengthAdjust="spacingAndGlyphs" fill="#1a1a1a" stroke="#1a1a1a" stroke-width="0.15">0.8</text>
<line x1="39.5" y1="206.5" x2="171.5" y2="206.5" stroke="#d6d2e6" stroke-width="1" stroke-dasharray="1 1.2"/>
<text x="37.2" y="208.4" font-size="6.6" text-anchor="end" textLength="8.1" lengthAdjust="spacingAndGlyphs" fill="#1a1a1a" stroke="#1a1a1a" stroke-width="0.15">1.0</text>
<line x1="44.5" y1="202.5" x2="44.5" y2="321.5" stroke="#d6d2e6" stroke-width="1" stroke-dasharray="1 1.2"/>
<text x="44.7" y="327.6" font-size="6.3" text-anchor="middle" fill="#1a1a1a" stroke="#1a1a1a" stroke-width="0.2">0</text>
<line x1="78.5" y1="202.5" x2="78.5" y2="321.5" stroke="#d6d2e6" stroke-width="1" stroke-dasharray="1 1.2"/>
<text x="78.1" y="327.6" font-size="6.3" text-anchor="middle" fill="#1a1a1a" stroke="#1a1a1a" stroke-width="0.2">100</text>
<line x1="111.5" y1="202.5" x2="111.5" y2="321.5" stroke="#d6d2e6" stroke-width="1" stroke-dasharray="1 1.2"/>
<text x="111.5" y="327.6" font-size="6.3" text-anchor="middle" fill="#1a1a1a" stroke="#1a1a1a" stroke-width="0.2">200</text>
<line x1="144.5" y1="202.5" x2="144.5" y2="321.5" stroke="#d6d2e6" stroke-width="1" stroke-dasharray="1 1.2"/>
<text x="144.9" y="327.6" font-size="6.3" text-anchor="middle" fill="#1a1a1a" stroke="#1a1a1a" stroke-width="0.2">300</text>
<text x="108.5" y="331.6" font-size="6.4" text-anchor="middle" textLength="13" lengthAdjust="spacingAndGlyphs" fill="#1a1a1a" stroke="#1a1a1a" stroke-width="0.15">Time</text>
<text transform="translate(27.8,263.5) rotate(-90)" font-size="8.2" text-anchor="middle" textLength="65" lengthAdjust="spacingAndGlyphs" fill="#1a1a1a" stroke="#1a1a1a" stroke-width="0.12">Survival Probability</text>
<polyline points="44.7,207.3 51.7,211.7 65.0,215.0 78.3,215.0 91.7,216.7 105.0,220.8 120.0,221.7 133.3,222.5 138.3,224.2 145.0,226.3 153.3,227.5 160.0,228.3 170.0,229.2" fill="none" stroke="#74d4dc" stroke-width="1" stroke-dasharray="1.1 0.9"/>
<polyline points="44.7,207.3 45.5,211.0 46.7,215.8 50.0,217.5 56.7,221.7 65.0,223.3 70.0,225.8 78.3,227.5 83.3,228.3 96.7,228.3 100.0,232.5 105.0,235.0 111.7,238.3 116.7,241.7 121.9,243.5 126.5,244.4 130.0,246.3 134.6,247.5 142.1,247.5 143.3,251.5 145.0,253.8 147.3,255.9 158.8,255.9 160.0,257.3 164.6,257.3 166.3,258.7" fill="none" stroke="#f27a68" stroke-width="1.2"/>
<text x="72.9" y="286.5" font-size="6.4" textLength="19" lengthAdjust="spacingAndGlyphs" fill="#1a1a1a" stroke="#1a1a1a" stroke-width="0.18">strata</text>
<line x1="72.9" y1="291.3" x2="76.3" y2="291.3" stroke="#f06858" stroke-width="0.8"/>
<text x="79.2" y="292.4" font-size="6.7" textLength="31.2" lengthAdjust="spacingAndGlyphs" fill="#1a1a1a" stroke="#1a1a1a" stroke-width="0.18">low score</text>
<line x1="73.2" y1="295.3" x2="77.10000000000001" y2="295.3" stroke="#80d8e0" stroke-width="0.8" stroke-dasharray="0.8 0.8"/>
<text x="79.5" y="297.3" font-size="6.7" textLength="34.8" lengthAdjust="spacingAndGlyphs" fill="#1a1a1a" stroke="#1a1a1a" stroke-width="0.18">high score</text>
<text x="107.2" y="307.7" font-size="8.2" textLength="35.2" lengthAdjust="spacingAndGlyphs" fill="#111" stroke="#111" stroke-width="0.1">p &lt; 0.0001</text>
<line x1="55.5" y1="337.3" x2="177.5" y2="337.3" stroke="#ecdce6" stroke-width="0.8" stroke-dasharray="0.9 1.1"/>
<text x="48.2" y="340.6" font-size="7.4" text-anchor="middle" textLength="10.8" lengthAdjust="spacingAndGlyphs" fill="#111" stroke="#111" stroke-width="0.15">109</text>
<text x="48.2" y="348.4" font-size="7.4" text-anchor="middle" textLength="10.8" lengthAdjust="spacingAndGlyphs" fill="#111" stroke="#111" stroke-width="0.15">109</text>
<text x="81.6" y="340.6" font-size="7.4" text-anchor="middle" textLength="7.2" lengthAdjust="spacingAndGlyphs" fill="#111" stroke="#111" stroke-width="0.15">86</text>
<text x="81.6" y="348.4" font-size="7.4" text-anchor="middle" textLength="7.2" lengthAdjust="spacingAndGlyphs" fill="#111" stroke="#111" stroke-width="0.15">99</text>
<text x="115.0" y="340.6" font-size="7.4" text-anchor="middle" textLength="7.2" lengthAdjust="spacingAndGlyphs" fill="#111" stroke="#111" stroke-width="0.15">69</text>
<text x="115.0" y="348.4" font-size="7.4" text-anchor="middle" textLength="7.2" lengthAdjust="spacingAndGlyphs" fill="#111" stroke="#111" stroke-width="0.15">84</text>
<text x="148.4" y="340.6" font-size="7.4" text-anchor="middle" textLength="7.2" lengthAdjust="spacingAndGlyphs" fill="#111" stroke="#111" stroke-width="0.15">53</text>
<text x="148.4" y="348.4" font-size="7.4" text-anchor="middle" textLength="7.2" lengthAdjust="spacingAndGlyphs" fill="#111" stroke="#111" stroke-width="0.15">70</text>
<text x="7.7" y="339.7" font-size="7.3" textLength="29.2" lengthAdjust="spacingAndGlyphs" fill="#111" stroke="#111" stroke-width="0.15">low score</text>
<text x="7.7" y="347.6" font-size="7.3" textLength="31.2" lengthAdjust="spacingAndGlyphs" fill="#111" stroke="#111" stroke-width="0.15">high score</text>
<text x="95.1" y="355.3" font-size="6.8" textLength="47" lengthAdjust="spacingAndGlyphs" fill="#111" stroke="#111" stroke-width="0.18">Numbers at risk</text>
<text x="216.4" y="199.5" font-size="8.8" textLength="133.3" lengthAdjust="spacingAndGlyphs" fill="#1a1a1a" stroke="#1a1a1a" stroke-width="0.22">Combined survival signature (test set1)</text>
<rect x="213.5" y="201.5" width="134.0" height="121.0" fill="#fff" stroke="#b4bcb4" stroke-width="1"/>
<line x1="214.5" y1="317.5" x2="346.5" y2="317.5" stroke="#d6d2e6" stroke-width="1" stroke-dasharray="1 1.2"/>
<text x="212.2" y="319.1" font-size="6.6" text-anchor="end" textLength="8.1" lengthAdjust="spacingAndGlyphs" fill="#1a1a1a" stroke="#1a1a1a" stroke-width="0.15">0.0</text>
<line x1="214.5" y1="295.5" x2="346.5" y2="295.5" stroke="#d6d2e6" stroke-width="1" stroke-dasharray="1 1.2"/>
<text x="212.2" y="297.0" font-size="6.6" text-anchor="end" textLength="8.1" lengthAdjust="spacingAndGlyphs" fill="#1a1a1a" stroke="#1a1a1a" stroke-width="0.15">0.2</text>
<line x1="214.5" y1="273.5" x2="346.5" y2="273.5" stroke="#d6d2e6" stroke-width="1" stroke-dasharray="1 1.2"/>
<text x="212.2" y="274.8" font-size="6.6" text-anchor="end" textLength="8.1" lengthAdjust="spacingAndGlyphs" fill="#1a1a1a" stroke="#1a1a1a" stroke-width="0.15">0.4</text>
<line x1="214.5" y1="251.5" x2="346.5" y2="251.5" stroke="#d6d2e6" stroke-width="1" stroke-dasharray="1 1.2"/>
<text x="212.2" y="252.7" font-size="6.6" text-anchor="end" textLength="8.1" lengthAdjust="spacingAndGlyphs" fill="#1a1a1a" stroke="#1a1a1a" stroke-width="0.15">0.6</text>
<line x1="214.5" y1="228.5" x2="346.5" y2="228.5" stroke="#d6d2e6" stroke-width="1" stroke-dasharray="1 1.2"/>
<text x="212.2" y="230.5" font-size="6.6" text-anchor="end" textLength="8.1" lengthAdjust="spacingAndGlyphs" fill="#1a1a1a" stroke="#1a1a1a" stroke-width="0.15">0.8</text>
<line x1="214.5" y1="206.5" x2="346.5" y2="206.5" stroke="#d6d2e6" stroke-width="1" stroke-dasharray="1 1.2"/>
<text x="212.2" y="208.4" font-size="6.6" text-anchor="end" textLength="8.1" lengthAdjust="spacingAndGlyphs" fill="#1a1a1a" stroke="#1a1a1a" stroke-width="0.15">1.0</text>
<line x1="219.5" y1="202.5" x2="219.5" y2="321.5" stroke="#d6d2e6" stroke-width="1" stroke-dasharray="1 1.2"/>
<text x="219.7" y="327.6" font-size="6.3" text-anchor="middle" fill="#1a1a1a" stroke="#1a1a1a" stroke-width="0.2">0</text>
<line x1="253.5" y1="202.5" x2="253.5" y2="321.5" stroke="#d6d2e6" stroke-width="1" stroke-dasharray="1 1.2"/>
<text x="253.1" y="327.6" font-size="6.3" text-anchor="middle" fill="#1a1a1a" stroke="#1a1a1a" stroke-width="0.2">100</text>
<line x1="286.5" y1="202.5" x2="286.5" y2="321.5" stroke="#d6d2e6" stroke-width="1" stroke-dasharray="1 1.2"/>
<text x="286.5" y="327.6" font-size="6.3" text-anchor="middle" fill="#1a1a1a" stroke="#1a1a1a" stroke-width="0.2">200</text>
<line x1="319.5" y1="202.5" x2="319.5" y2="321.5" stroke="#d6d2e6" stroke-width="1" stroke-dasharray="1 1.2"/>
<text x="319.9" y="327.6" font-size="6.3" text-anchor="middle" fill="#1a1a1a" stroke="#1a1a1a" stroke-width="0.2">300</text>
<text x="283.5" y="331.6" font-size="6.4" text-anchor="middle" textLength="13" lengthAdjust="spacingAndGlyphs" fill="#1a1a1a" stroke="#1a1a1a" stroke-width="0.15">Time</text>
<text transform="translate(202.8,263.5) rotate(-90)" font-size="8.2" text-anchor="middle" textLength="65" lengthAdjust="spacingAndGlyphs" fill="#1a1a1a" stroke="#1a1a1a" stroke-width="0.12">Survival Probability</text>
<polyline points="219.7,207.3 230.0,207.5 230.8,211.7 243.3,212.5 244.2,214.7 250.8,214.7 252.0,216.7 256.7,216.7 257.5,220.8 274.2,220.8 275.3,223.0 278.3,223.7 303.3,223.7 304.7,229.2 320.0,229.2 320.8,235.0 341.7,235.0" fill="none" stroke="#74d4dc" stroke-width="1" stroke-dasharray="1.1 0.9"/>
<polyline points="219.7,207.3 220.0,215.8 222.5,218.0 225.0,218.0 225.8,221.7 228.3,223.3 230.8,223.3 231.3,230.8 232.5,235.0 235.0,235.0 236.3,237.0 241.7,238.0 243.3,240.0 256.7,240.0 258.0,243.0 262.5,243.0 263.7,245.8 288.3,245.8 289.2,248.7 306.1,248.7 307.0,252.1 310.2,252.1 310.8,255.0 320.0,255.0 320.6,258.2 329.2,258.2 329.8,261.1 333.8,261.1 334.4,264.2 341.9,264.2" fill="none" stroke="#f27a68" stroke-width="1.2"/>
<text x="247.89999999999998" y="286.5" font-size="6.4" textLength="19" lengthAdjust="spacingAndGlyphs" fill="#1a1a1a" stroke="#1a1a1a" stroke-width="0.18">strata</text>
<line x1="247.89999999999998" y1="291.3" x2="251.29999999999998" y2="291.3" stroke="#f06858" stroke-width="0.8"/>
<text x="254.2" y="292.4" font-size="6.7" textLength="31.2" lengthAdjust="spacingAndGlyphs" fill="#1a1a1a" stroke="#1a1a1a" stroke-width="0.18">low score</text>
<line x1="248.2" y1="295.3" x2="252.1" y2="295.3" stroke="#80d8e0" stroke-width="0.8" stroke-dasharray="0.8 0.8"/>
<text x="254.5" y="297.3" font-size="6.7" textLength="34.8" lengthAdjust="spacingAndGlyphs" fill="#1a1a1a" stroke="#1a1a1a" stroke-width="0.18">high score</text>
<text x="282.2" y="307.7" font-size="8.2" textLength="35.2" lengthAdjust="spacingAndGlyphs" fill="#111" stroke="#111" stroke-width="0.1">p = 0.0144</text>
<line x1="200.5" y1="337.3" x2="352.5" y2="337.3" stroke="#ecdce6" stroke-width="0.8" stroke-dasharray="0.9 1.1"/>
<text x="223.2" y="340.6" font-size="7.4" text-anchor="middle" textLength="7.2" lengthAdjust="spacingAndGlyphs" fill="#111" stroke="#111" stroke-width="0.15">39</text>
<text x="223.2" y="348.4" font-size="7.4" text-anchor="middle" textLength="7.2" lengthAdjust="spacingAndGlyphs" fill="#111" stroke="#111" stroke-width="0.15">39</text>
<text x="256.6" y="340.6" font-size="7.4" text-anchor="middle" textLength="7.2" lengthAdjust="spacingAndGlyphs" fill="#111" stroke="#111" stroke-width="0.15">27</text>
<text x="256.6" y="348.4" font-size="7.4" text-anchor="middle" textLength="7.2" lengthAdjust="spacingAndGlyphs" fill="#111" stroke="#111" stroke-width="0.15">35</text>
<text x="290.0" y="340.6" font-size="7.4" text-anchor="middle" textLength="7.2" lengthAdjust="spacingAndGlyphs" fill="#111" stroke="#111" stroke-width="0.15">24</text>
<text x="290.0" y="348.4" font-size="7.4" text-anchor="middle" textLength="7.2" lengthAdjust="spacingAndGlyphs" fill="#111" stroke="#111" stroke-width="0.15">33</text>
<text x="323.4" y="340.6" font-size="7.4" text-anchor="middle" textLength="7.2" lengthAdjust="spacingAndGlyphs" fill="#111" stroke="#111" stroke-width="0.15">21</text>
<text x="323.4" y="348.4" font-size="7.4" text-anchor="middle" textLength="7.2" lengthAdjust="spacingAndGlyphs" fill="#111" stroke="#111" stroke-width="0.15">30</text>
<text x="270.1" y="355.3" font-size="6.8" textLength="47" lengthAdjust="spacingAndGlyphs" fill="#111" stroke="#111" stroke-width="0.18">Numbers at risk</text>
<text x="376.6" y="199.4" font-size="8.8" textLength="132" lengthAdjust="spacingAndGlyphs" fill="#1a1a1a" stroke="#1a1a1a" stroke-width="0.08">Combined survival signature (test set2)</text>
<rect x="389.5" y="203.5" width="125.0" height="114.0" fill="#fff" stroke="#b8b8b8" stroke-width="1"/>
<line x1="394.50" y1="208.8" x2="394.50" y2="311.5" stroke="#cfcfe6" stroke-width="0.7" stroke-dasharray="0.7 1.3"/>
<line x1="398.47" y1="208.8" x2="398.47" y2="311.5" stroke="#cfcfe6" stroke-width="0.7" stroke-dasharray="0.7 1.3"/>
<line x1="402.44" y1="208.8" x2="402.44" y2="311.5" stroke="#cfcfe6" stroke-width="0.7" stroke-dasharray="0.7 1.3"/>
<line x1="406.41" y1="208.8" x2="406.41" y2="311.5" stroke="#cfcfe6" stroke-width="0.7" stroke-dasharray="0.7 1.3"/>
<line x1="410.38" y1="208.8" x2="410.38" y2="311.5" stroke="#cfcfe6" stroke-width="0.7" stroke-dasharray="0.7 1.3"/>
<line x1="414.35" y1="208.8" x2="414.35" y2="311.5" stroke="#cfcfe6" stroke-width="0.7" stroke-dasharray="0.7 1.3"/>
<line x1="418.32" y1="208.8" x2="418.32" y2="311.5" stroke="#cfcfe6" stroke-width="0.7" stroke-dasharray="0.7 1.3"/>
<line x1="422.29" y1="208.8" x2="422.29" y2="311.5" stroke="#cfcfe6" stroke-width="0.7" stroke-dasharray="0.7 1.3"/>
<line x1="426.26" y1="208.8" x2="426.26" y2="311.5" stroke="#cfcfe6" stroke-width="0.7" stroke-dasharray="0.7 1.3"/>
<line x1="430.23" y1="208.8" x2="430.23" y2="311.5" stroke="#cfcfe6" stroke-width="0.7" stroke-dasharray="0.7 1.3"/>
<line x1="434.20" y1="208.8" x2="434.20" y2="311.5" stroke="#cfcfe6" stroke-width="0.7" stroke-dasharray="0.7 1.3"/>
<line x1="438.17" y1="208.8" x2="438.17" y2="311.5" stroke="#cfcfe6" stroke-width="0.7" stroke-dasharray="0.7 1.3"/>
<line x1="442.14" y1="208.8" x2="442.14" y2="311.5" stroke="#cfcfe6" stroke-width="0.7" stroke-dasharray="0.7 1.3"/>
<line x1="446.11" y1="208.8" x2="446.11" y2="311.5" stroke="#cfcfe6" stroke-width="0.7" stroke-dasharray="0.7 1.3"/>
<line x1="450.08" y1="208.8" x2="450.08" y2="311.5" stroke="#cfcfe6" stroke-width="0.7" stroke-dasharray="0.7 1.3"/>
<line x1="454.05" y1="208.8" x2="454.05" y2="311.5" stroke="#cfcfe6" stroke-width="0.7" stroke-dasharray="0.7 1.3"/>
<line x1="458.02" y1="208.8" x2="458.02" y2="311.5" stroke="#cfcfe6" stroke-width="0.7" stroke-dasharray="0.7 1.3"/>
<line x1="461.99" y1="208.8" x2="461.99" y2="311.5" stroke="#cfcfe6" stroke-width="0.7" stroke-dasharray="0.7 1.3"/>
<line x1="465.96" y1="208.8" x2="465.96" y2="311.5" stroke="#cfcfe6" stroke-width="0.7" stroke-dasharray="0.7 1.3"/>
<line x1="469.93" y1="208.8" x2="469.93" y2="311.5" stroke="#cfcfe6" stroke-width="0.7" stroke-dasharray="0.7 1.3"/>
<line x1="473.90" y1="208.8" x2="473.90" y2="311.5" stroke="#cfcfe6" stroke-width="0.7" stroke-dasharray="0.7 1.3"/>
<line x1="477.87" y1="208.8" x2="477.87" y2="311.5" stroke="#cfcfe6" stroke-width="0.7" stroke-dasharray="0.7 1.3"/>
<line x1="481.84" y1="208.8" x2="481.84" y2="311.5" stroke="#cfcfe6" stroke-width="0.7" stroke-dasharray="0.7 1.3"/>
<line x1="485.81" y1="208.8" x2="485.81" y2="311.5" stroke="#cfcfe6" stroke-width="0.7" stroke-dasharray="0.7 1.3"/>
<line x1="489.78" y1="208.8" x2="489.78" y2="311.5" stroke="#cfcfe6" stroke-width="0.7" stroke-dasharray="0.7 1.3"/>
<line x1="493.75" y1="208.8" x2="493.75" y2="311.5" stroke="#cfcfe6" stroke-width="0.7" stroke-dasharray="0.7 1.3"/>
<line x1="497.72" y1="208.8" x2="497.72" y2="311.5" stroke="#cfcfe6" stroke-width="0.7" stroke-dasharray="0.7 1.3"/>
<line x1="501.69" y1="208.8" x2="501.69" y2="311.5" stroke="#cfcfe6" stroke-width="0.7" stroke-dasharray="0.7 1.3"/>
<line x1="505.66" y1="208.8" x2="505.66" y2="311.5" stroke="#cfcfe6" stroke-width="0.7" stroke-dasharray="0.7 1.3"/>
<line x1="390.5" y1="311.5" x2="513.5" y2="311.5" stroke="#cfcfe6" stroke-width="0.7" stroke-dasharray="0.7 1.3"/>
<text x="388.7" y="313.5" font-size="5.4" font-weight="bold" text-anchor="end" fill="#333">0.00</text>
<line x1="390.5" y1="285.8" x2="513.5" y2="285.8" stroke="#cfcfe6" stroke-width="0.7" stroke-dasharray="0.7 1.3"/>
<text x="388.7" y="287.8" font-size="5.4" font-weight="bold" text-anchor="end" fill="#333">0.25</text>
<line x1="390.5" y1="260.1" x2="513.5" y2="260.1" stroke="#cfcfe6" stroke-width="0.7" stroke-dasharray="0.7 1.3"/>
<text x="388.7" y="262.1" font-size="5.4" font-weight="bold" text-anchor="end" fill="#333">0.50</text>
<line x1="390.5" y1="234.5" x2="513.5" y2="234.5" stroke="#cfcfe6" stroke-width="0.7" stroke-dasharray="0.7 1.3"/>
<text x="388.7" y="236.5" font-size="5.4" font-weight="bold" text-anchor="end" fill="#333">0.75</text>
<line x1="390.5" y1="208.8" x2="513.5" y2="208.8" stroke="#cfcfe6" stroke-width="0.7" stroke-dasharray="0.7 1.3"/>
<text x="388.7" y="210.8" font-size="5.4" font-weight="bold" text-anchor="end" fill="#333">1.00</text>
<text x="394.5" y="322.3" font-size="6" text-anchor="middle" textLength="3.3" lengthAdjust="spacingAndGlyphs" fill="#333">0</text>
<text x="414.4" y="322.3" font-size="6" text-anchor="middle" textLength="9.9" lengthAdjust="spacingAndGlyphs" fill="#333">500</text>
<text x="434.2" y="322.3" font-size="6" text-anchor="middle" textLength="13.2" lengthAdjust="spacingAndGlyphs" fill="#333">1000</text>
<text x="454.1" y="322.3" font-size="6" text-anchor="middle" textLength="13.2" lengthAdjust="spacingAndGlyphs" fill="#333">1500</text>
<text x="473.9" y="322.3" font-size="6" text-anchor="middle" textLength="13.2" lengthAdjust="spacingAndGlyphs" fill="#333">2000</text>
<text x="493.8" y="322.3" font-size="6" text-anchor="middle" textLength="13.2" lengthAdjust="spacingAndGlyphs" fill="#333">2500</text>
<text x="452.3" y="331.3" font-size="9.2" text-anchor="middle" fill="#111">Time</text>
<text transform="translate(377.2,260.6) rotate(-90)" font-size="11.6" text-anchor="middle" textLength="91.5" lengthAdjust="spacingAndGlyphs" fill="#111" stroke="#111" stroke-width="0.15">Survival Probability</text>
<polyline points="394.9,208.9 396.5,214.5 398.8,222.3 401.0,225.6 403.2,229.5 403.8,234.0 406.0,237.3 407.7,240.7 409.1,243.8 411.4,248.4 413.7,253.0 416.8,259.2 419.9,262.2 422.9,264.5 426.8,267.6 430.6,271.4 434.4,274.5 437.5,276.0 440.6,276.2 448.7,276.2 451.3,280.0 457.1,282.5 460.4,285.0 462.1,288.7 508.0,288.7" fill="none" stroke="#2cb0b8" stroke-width="1.7" stroke-dasharray="1.8 1.8"/>
<polyline points="394.9,208.9 394.9,216.1 396.0,219.5 396.0,224.0 397.6,227.3 399.3,229.0 401.0,232.3 402.1,236.2 403.2,240.7 404.5,246.1 406.8,253.8 408.4,261.5 409.9,266.8 413.0,269.9 415.3,273.0 417.6,276.8 419.9,279.1 423.7,280.6 426.0,283.7 427.5,286.7 430.6,289.0 433.6,290.4 450.6,290.4 451.3,293.3 494.7,293.3" fill="none" stroke="#ee4848" stroke-width="1.2"/>
<text x="445.4" y="214.2" font-size="7.2" textLength="18.4" lengthAdjust="spacingAndGlyphs" fill="#222" stroke="#222" stroke-width="0.12">strata</text>
<line x1="445.5" y1="218.5" x2="450.2" y2="218.5" stroke="#f08070" stroke-width="0.9"/>
<text x="452.6" y="219.4" font-size="7.2" textLength="30.8" lengthAdjust="spacingAndGlyphs" fill="#222" stroke="#222" stroke-width="0.12">low score</text>
<line x1="445.5" y1="224" x2="450.2" y2="224" stroke="#70c8d0" stroke-width="0.9"/>
<text x="452.6" y="224.6" font-size="7.2" textLength="34" lengthAdjust="spacingAndGlyphs" fill="#222" stroke="#222" stroke-width="0.12">high score</text>
<text x="453.4" y="307.4" font-size="8.1" fill="#222">p = 0.0398</text>
<line x1="388" y1="335.3" x2="512" y2="335.3" stroke="#d8ccd8" stroke-width="0.8" stroke-dasharray="0.9 1.4"/>
<text x="396.4" y="337.6" font-size="7.2" text-anchor="middle" fill="#111">86</text>
<text x="416.3" y="337.6" font-size="7.2" text-anchor="middle" fill="#111">33</text>
<text x="440.2" y="337.6" font-size="7.2" text-anchor="middle" fill="#111">16</text>
<text x="457" y="337.6" font-size="7.2" text-anchor="middle" fill="#111">8</text>
<text x="476.9" y="337.6" font-size="7.2" text-anchor="middle" fill="#111">1</text>
<text x="497.1" y="337.6" font-size="7.2" text-anchor="middle" fill="#111">1</text>
<text x="396.4" y="345.1" font-size="7.2" text-anchor="middle" fill="#111">86</text>
<text x="416.3" y="345.1" font-size="7.2" text-anchor="middle" fill="#111">28</text>
<text x="440.2" y="345.1" font-size="7.2" text-anchor="middle" fill="#111">11</text>
<text x="457" y="345.1" font-size="7.2" text-anchor="middle" fill="#111">6</text>
<text x="476.9" y="345.1" font-size="7.2" text-anchor="middle" fill="#111">3</text>
<text x="497.1" y="345.1" font-size="7.2" text-anchor="middle" fill="#111">0</text>
<text x="367" y="337.9" font-size="2.8" font-weight="bold" textLength="19" lengthAdjust="spacingAndGlyphs" fill="#222">HIGH SCORE</text>
<text x="367.3" y="345.2" font-size="2.8" font-weight="bold" textLength="17.8" lengthAdjust="spacingAndGlyphs" fill="#222">LOW SCORE</text>
<text x="423.8" y="354" font-size="8" fill="#111">Numbers at risk</text>
</svg>
</body></html>
